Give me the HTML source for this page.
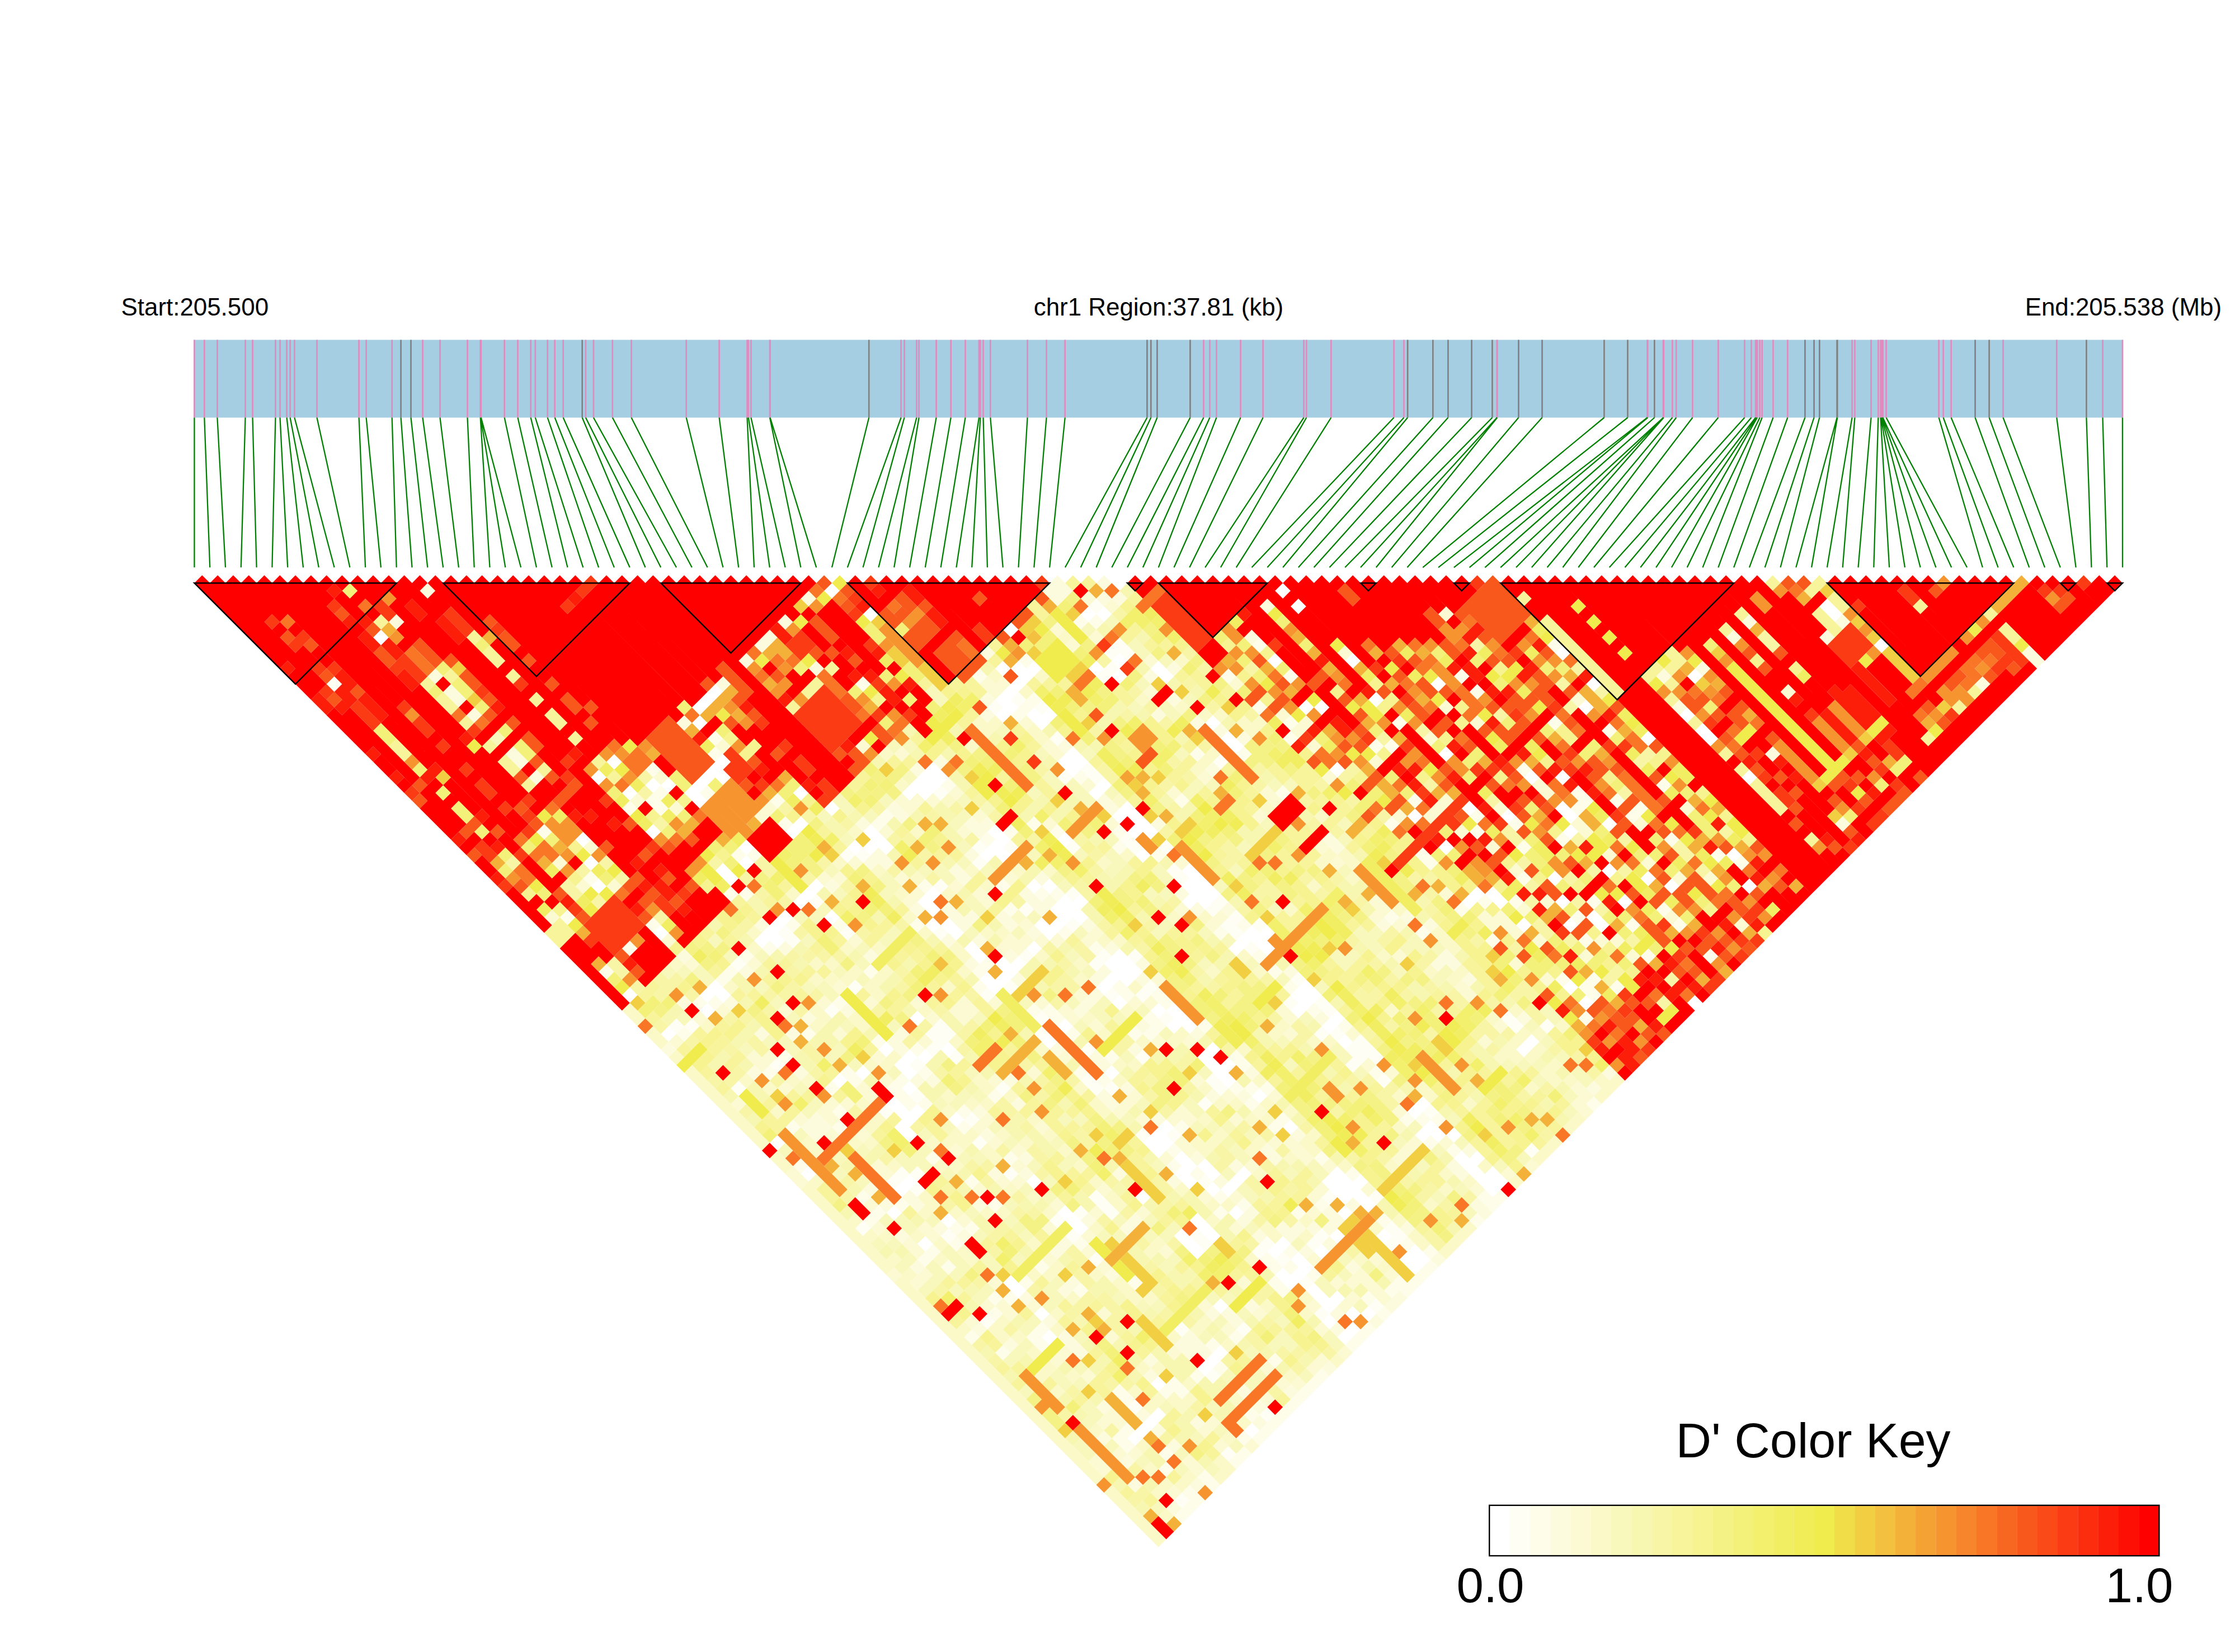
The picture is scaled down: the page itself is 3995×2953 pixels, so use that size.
<!DOCTYPE html><html><head><meta charset="utf-8"><title>LD heatmap</title><style>html,body{margin:0;padding:0;background:#fff}svg{display:block}text{font-family:"Liberation Sans",sans-serif;fill:#000}</style></head><body>
<svg width="3995" height="2953" viewBox="0 0 3995 2953">
<rect width="3995" height="2953" fill="#fff"/>
<text x="216.5" y="564" font-size="43.9">Start:205.500</text>
<text x="2071" y="564" font-size="43.9" text-anchor="middle">chr1 Region:37.81 (kb)</text>
<text x="3971" y="564" font-size="43.9" text-anchor="end">End:205.538 (Mb)</text>
<rect x="346.0" y="607.5" width="3449.2" height="139.0" fill="#a6cee3"/>
<path d="M347.4 607.5V746.5M365.3 607.5V746.5M388.4 607.5V746.5M438.5 607.5V746.5M451.5 607.5V746.5M492.4 607.5V746.5M500.5 607.5V746.5M512.6 607.5V746.5M518.6 607.5V746.5M526.4 607.5V746.5M566.5 607.5V746.5M641.6 607.5V746.5M654.6 607.5V746.5M700.7 607.5V746.5M755.5 607.5V746.5M786.5 607.5V746.5M835.5 607.5V746.5M858.7 607.5V746.5M859.3 607.5V746.5M859.9 607.5V746.5M901.7 607.5V746.5M925.5 607.5V746.5M948.7 607.5V746.5M956.8 607.5V746.5M978.7 607.5V746.5M991.7 607.5V746.5M1006.7 607.5V746.5M1046.9 607.5V746.5M1060.9 607.5V746.5M1094.8 607.5V746.5M1128.5 607.5V746.5M1226.7 607.5V746.5M1285.6 607.5V746.5M1335.5 607.5V746.5M1337.9 607.5V746.5M1342.4 607.5V746.5M1376.0 607.5V746.5M1376.6 607.5V746.5M1610.6 607.5V746.5M1616.5 607.5V746.5M1638.4 607.5V746.5M1642.6 607.5V746.5M1673.6 607.5V746.5M1699.7 607.5V746.5M1725.5 607.5V746.5M1749.9 607.5V746.5M1752.3 607.5V746.5M1757.5 607.5V746.5M1770.3 607.5V746.5M1836.5 607.5V746.5M1870.5 607.5V746.5M1903.7 607.5V746.5M2151.4 607.5V746.5M2162.4 607.5V746.5M2174.4 607.5V746.5M2217.5 607.5V746.5M2257.6 607.5V746.5M2330.5 607.5V746.5M2335.2 607.5V746.5M2379.3 607.5V746.5M2491.5 607.5V746.5M2509.4 607.5V746.5M2675.7 607.5V746.5M2676.3 607.5V746.5M2944.5 607.5V746.5M2945.2 607.5V746.5M2973.0 607.5V746.5M2973.4 607.5V746.5M2973.8 607.5V746.5M2989.3 607.5V746.5M2996.2 607.5V746.5M3025.4 607.5V746.5M3071.3 607.5V746.5M3118.4 607.5V746.5M3130.4 607.5V746.5M3138.0 607.5V746.5M3139.6 607.5V746.5M3141.0 607.5V746.5M3145.6 607.5V746.5M3149.7 607.5V746.5M3169.4 607.5V746.5M3195.3 607.5V746.5M3310.5 607.5V746.5M3315.4 607.5V746.5M3344.5 607.5V746.5M3357.3 607.5V746.5M3361.5 607.5V746.5M3362.5 607.5V746.5M3363.5 607.5V746.5M3364.5 607.5V746.5M3365.5 607.5V746.5M3371.5 607.5V746.5M3465.6 607.5V746.5M3473.6 607.5V746.5M3487.6 607.5V746.5M3580.5 607.5V746.5M3676.3 607.5V746.5M3758.5 607.5V746.5M3793.9 607.5V746.5" stroke="#e08abd" stroke-width="2.6" fill="none"/>
<path d="M716.6 607.5V746.5M734.5 607.5V746.5M1040.7 607.5V746.5M1553.2 607.5V746.5M2050.4 607.5V746.5M2057.3 607.5V746.5M2068.4 607.5V746.5M2127.4 607.5V746.5M2516.1 607.5V746.5M2561.3 607.5V746.5M2588.4 607.5V746.5M2630.5 607.5V746.5M2667.4 607.5V746.5M2714.4 607.5V746.5M2756.5 607.5V746.5M2867.4 607.5V746.5M2909.4 607.5V746.5M2957.3 607.5V746.5M3226.4 607.5V746.5M3242.5 607.5V746.5M3252.3 607.5V746.5M3283.6 607.5V746.5M3284.2 607.5V746.5M3530.5 607.5V746.5M3555.6 607.5V746.5M3729.4 607.5V746.5" stroke="#808080" stroke-width="2.6" fill="none"/>
<path d="M347.4 746.5L347.4 1014.3M365.3 746.5L375.2 1014.3M388.4 746.5L403.0 1014.3M438.5 746.5L430.8 1014.3M451.5 746.5L458.6 1014.3M492.4 746.5L486.4 1014.3M500.5 746.5L514.2 1014.3M512.6 746.5L542.0 1014.3M518.6 746.5L569.8 1014.3M526.4 746.5L597.6 1014.3M566.5 746.5L625.4 1014.3M641.6 746.5L653.1 1014.3M654.6 746.5L680.9 1014.3M700.7 746.5L708.7 1014.3M716.6 746.5L736.5 1014.3M734.5 746.5L764.3 1014.3M755.5 746.5L792.1 1014.3M786.5 746.5L819.9 1014.3M835.5 746.5L847.7 1014.3M858.7 746.5L875.5 1014.3M859.3 746.5L903.3 1014.3M859.9 746.5L931.1 1014.3M901.7 746.5L958.9 1014.3M925.5 746.5L986.7 1014.3M948.7 746.5L1014.5 1014.3M956.8 746.5L1042.3 1014.3M978.7 746.5L1070.1 1014.3M991.7 746.5L1097.9 1014.3M1006.7 746.5L1125.7 1014.3M1040.7 746.5L1153.5 1014.3M1046.9 746.5L1181.2 1014.3M1060.9 746.5L1209.0 1014.3M1094.8 746.5L1236.8 1014.3M1128.5 746.5L1264.6 1014.3M1226.7 746.5L1292.4 1014.3M1285.6 746.5L1320.2 1014.3M1335.5 746.5L1348.0 1014.3M1337.9 746.5L1375.8 1014.3M1342.4 746.5L1403.6 1014.3M1376.0 746.5L1431.4 1014.3M1376.6 746.5L1459.2 1014.3M1553.2 746.5L1487.0 1014.3M1610.6 746.5L1514.8 1014.3M1616.5 746.5L1542.6 1014.3M1638.4 746.5L1570.4 1014.3M1642.6 746.5L1598.2 1014.3M1673.6 746.5L1626.0 1014.3M1699.7 746.5L1653.8 1014.3M1725.5 746.5L1681.6 1014.3M1749.9 746.5L1709.4 1014.3M1752.3 746.5L1737.2 1014.3M1757.5 746.5L1764.9 1014.3M1770.3 746.5L1792.7 1014.3M1836.5 746.5L1820.5 1014.3M1870.5 746.5L1848.3 1014.3M1903.7 746.5L1876.1 1014.3M2050.4 746.5L1903.9 1014.3M2057.3 746.5L1931.7 1014.3M2068.4 746.5L1959.5 1014.3M2127.4 746.5L1987.3 1014.3M2151.4 746.5L2015.1 1014.3M2162.4 746.5L2042.9 1014.3M2174.4 746.5L2070.7 1014.3M2217.5 746.5L2098.5 1014.3M2257.6 746.5L2126.3 1014.3M2330.5 746.5L2154.1 1014.3M2335.2 746.5L2181.9 1014.3M2379.3 746.5L2209.7 1014.3M2491.5 746.5L2237.5 1014.3M2509.4 746.5L2265.3 1014.3M2516.1 746.5L2293.1 1014.3M2561.3 746.5L2320.8 1014.3M2588.4 746.5L2348.6 1014.3M2630.5 746.5L2376.4 1014.3M2667.4 746.5L2404.2 1014.3M2675.7 746.5L2432.0 1014.3M2676.3 746.5L2459.8 1014.3M2714.4 746.5L2487.6 1014.3M2756.5 746.5L2515.4 1014.3M2867.4 746.5L2543.2 1014.3M2909.4 746.5L2571.0 1014.3M2944.5 746.5L2598.8 1014.3M2945.2 746.5L2626.6 1014.3M2957.3 746.5L2654.4 1014.3M2973.0 746.5L2682.2 1014.3M2973.4 746.5L2710.0 1014.3M2973.8 746.5L2737.8 1014.3M2989.3 746.5L2765.6 1014.3M2996.2 746.5L2793.4 1014.3M3025.4 746.5L2821.2 1014.3M3071.3 746.5L2849.0 1014.3M3118.4 746.5L2876.7 1014.3M3130.4 746.5L2904.5 1014.3M3138.0 746.5L2932.3 1014.3M3139.6 746.5L2960.1 1014.3M3141.0 746.5L2987.9 1014.3M3145.6 746.5L3015.7 1014.3M3149.7 746.5L3043.5 1014.3M3169.4 746.5L3071.3 1014.3M3195.3 746.5L3099.1 1014.3M3226.4 746.5L3126.9 1014.3M3242.5 746.5L3154.7 1014.3M3252.3 746.5L3182.5 1014.3M3283.6 746.5L3210.3 1014.3M3284.2 746.5L3238.1 1014.3M3310.5 746.5L3265.9 1014.3M3315.4 746.5L3293.7 1014.3M3344.5 746.5L3321.5 1014.3M3357.3 746.5L3349.3 1014.3M3361.5 746.5L3377.1 1014.3M3362.5 746.5L3404.9 1014.3M3363.5 746.5L3432.6 1014.3M3364.5 746.5L3460.4 1014.3M3365.5 746.5L3488.2 1014.3M3371.5 746.5L3516.0 1014.3M3465.6 746.5L3543.8 1014.3M3473.6 746.5L3571.6 1014.3M3487.6 746.5L3599.4 1014.3M3530.5 746.5L3627.2 1014.3M3555.6 746.5L3655.0 1014.3M3580.5 746.5L3682.8 1014.3M3676.3 746.5L3710.6 1014.3M3729.4 746.5L3738.4 1014.3M3758.5 746.5L3766.2 1014.3M3793.9 746.5L3794.0 1014.3" stroke="#008000" stroke-width="2.3" fill="none"/>
<g transform="matrix(13.8975 -13.8975 13.8975 13.8975 333.502 1028.300)">
<path fill="#fefef4" d="M1 85v1h1v-1zM2 16v1h1v-1zM2 60v1h1v-1zM2 68v1h1v-1zM3 61v1h1v-1zM3 99v1h1v-1zM4 123v1h1v-1zM6 69v1h1v-1zM6 84v1h1v-1zM6 91v1h1v-1zM7 84v1h1v-1zM7 86v1h1v-1zM7 114v1h1v-1zM8 85v1h1v-1zM10 60v1h1v-1zM10 79v1h1v-1zM10 123v1h1v-1zM13 69v1h1v-1zM13 80v1h1v-1zM14 87v1h1v-1zM14 91v1h1v-1zM14 97v1h1v-1zM14 99v1h1v-1zM14 102v1h1v-1zM14 117v1h1v-1zM15 61v2h1v-2zM15 78v1h1v-1zM15 85v1h1v-1zM15 112v1h1v-1zM15 123v1h1v-1zM16 69v1h1v-1zM16 98v1h1v-1zM17 78v1h1v-1zM18 77v2h1v-2zM18 80v1h1v-1zM18 98v3h1v-3zM19 61v1h1v-1zM19 65v1h1v-1zM19 77v2h1v-2zM19 85v1h1v-1zM19 116v1h1v-1zM22 107v2h1v-2zM24 60v1h1v-1zM24 78v1h1v-1zM25 61v1h1v-1zM25 71v1h1v-1zM25 84v1h1v-1zM25 90v2h1v-2zM25 97v1h1v-1zM25 112v1h1v-1zM25 120v1h1v-1zM26 79v1h1v-1zM26 83v1h1v-1zM26 92v1h1v-1zM26 104v1h1v-1zM26 112v1h1v-1zM26 114v1h1v-1zM26 117v1h1v-1zM27 88v1h1v-1zM27 99v1h1v-1zM28 68v1h1v-1zM29 78v1h1v-1zM29 115v1h1v-1zM29 123v1h1v-1zM30 92v1h1v-1zM30 115v1h1v-1zM31 99v1h1v-1zM32 69v1h1v-1zM32 75v1h1v-1zM32 86v1h1v-1zM33 68v1h1v-1zM33 83v1h1v-1zM33 98v2h1v-2zM33 113v1h1v-1zM34 62v1h1v-1zM34 79v1h1v-1zM34 83v1h1v-1zM34 88v1h1v-1zM34 91v1h1v-1zM34 120v1h1v-1zM35 70v1h1v-1zM35 88v1h1v-1zM35 119v2h1v-2zM36 77v1h1v-1zM36 85v1h1v-1zM36 116v1h1v-1zM39 74v1h1v-1zM43 60v1h1v-1zM43 69v1h1v-1zM43 77v2h1v-2zM43 98v1h1v-1zM43 102v1h1v-1zM43 106v1h1v-1zM44 82v2h1v-2zM44 87v1h1v-1zM44 89v2h1v-2zM44 92v1h1v-1zM44 103v1h1v-1zM44 105v2h1v-2zM44 109v1h1v-1zM45 61v1h1v-1zM45 66v1h1v-1zM45 70v2h1v-2zM45 80v1h1v-1zM45 87v1h1v-1zM45 89v1h1v-1zM45 97v1h1v-1zM45 100v2h1v-2zM45 105v3h1v-3zM45 114v1h1v-1zM46 63v1h1v-1zM46 91v1h1v-1zM49 123v1h1v-1zM52 65v1h1v-1zM53 65v1h1v-1zM54 64v1h1v-1zM54 78v1h1v-1zM55 64v2h1v-2zM56 60v1h1v-1zM56 113v2h1v-2zM58 116v1h1v-1z"/>
<path fill="#fdfde9" d="M1 52v1h1v-1zM1 77v1h1v-1zM1 99v1h1v-1zM2 46v1h1v-1zM2 61v1h1v-1zM2 85v1h1v-1zM2 102v1h1v-1zM3 74v1h1v-1zM3 83v1h1v-1zM3 85v1h1v-1zM3 91v1h1v-1zM3 124v1h1v-1zM4 52v1h1v-1zM4 91v1h1v-1zM4 93v1h1v-1zM4 99v1h1v-1zM4 115v2h1v-2zM4 124v1h1v-1zM5 60v1h1v-1zM5 69v1h1v-1zM5 86v1h1v-1zM5 98v1h1v-1zM5 103v2h1v-2zM5 115v1h1v-1zM5 120v1h1v-1zM5 123v2h1v-2zM6 39v1h1v-1zM6 45v1h1v-1zM6 61v1h1v-1zM6 77v1h1v-1zM6 92v1h1v-1zM6 99v1h1v-1zM6 103v1h1v-1zM6 119v1h1v-1zM7 52v1h1v-1zM7 69v1h1v-1zM7 76v1h1v-1zM7 91v1h1v-1zM7 112v2h1v-2zM7 123v2h1v-2zM8 60v1h1v-1zM8 74v1h1v-1zM8 92v1h1v-1zM8 99v1h1v-1zM9 60v1h1v-1zM10 69v1h1v-1zM10 74v2h1v-2zM10 85v1h1v-1zM10 99v1h1v-1zM10 115v1h1v-1zM10 124v1h1v-1zM11 60v1h1v-1zM11 89v1h1v-1zM11 92v1h1v-1zM11 103v1h1v-1zM11 115v2h1v-2zM11 124v1h1v-1zM12 78v3h1v-3zM12 123v1h1v-1zM13 43v1h1v-1zM13 61v1h1v-1zM13 78v1h1v-1zM13 81v1h1v-1zM13 116v1h1v-1zM13 124v1h1v-1zM14 55v1h1v-1zM14 69v1h1v-1zM14 74v1h1v-1zM14 85v1h1v-1zM14 100v1h1v-1zM14 122v1h1v-1zM14 124v1h1v-1zM15 44v2h1v-2zM15 56v1h1v-1zM15 79v1h1v-1zM15 84v1h1v-1zM15 90v1h1v-1zM15 106v1h1v-1zM15 117v1h1v-1zM15 124v1h1v-1zM16 44v1h1v-1zM16 61v1h1v-1zM16 77v1h1v-1zM16 115v1h1v-1zM16 124v1h1v-1zM17 42v1h1v-1zM17 53v1h1v-1zM17 124v1h1v-1zM18 54v1h1v-1zM18 69v1h1v-1zM18 85v1h1v-1zM18 116v1h1v-1zM18 124v1h1v-1zM19 47v1h1v-1zM19 64v1h1v-1zM19 120v1h1v-1zM19 124v1h1v-1zM20 124v1h1v-1zM21 124v1h1v-1zM22 45v1h1v-1zM22 54v1h1v-1zM23 44v1h1v-1zM23 52v1h1v-1zM24 69v1h1v-1zM24 77v1h1v-1zM24 115v2h1v-2zM25 76v1h1v-1zM25 89v1h1v-1zM25 101v1h1v-1zM25 107v1h1v-1zM25 113v2h1v-2zM25 124v1h1v-1zM26 76v1h1v-1zM26 82v1h1v-1zM26 91v1h1v-1zM26 100v1h1v-1zM26 103v1h1v-1zM26 106v1h1v-1zM26 115v1h1v-1zM26 124v1h1v-1zM27 67v1h1v-1zM27 83v2h1v-2zM27 86v1h1v-1zM27 108v1h1v-1zM27 114v1h1v-1zM27 117v1h1v-1zM27 124v1h1v-1zM28 60v1h1v-1zM28 90v1h1v-1zM28 99v1h1v-1zM29 60v1h1v-1zM29 122v1h1v-1zM29 124v1h1v-1zM30 112v1h1v-1zM31 74v1h1v-1zM31 90v1h1v-1zM31 123v1h1v-1zM32 72v1h1v-1zM32 91v1h1v-1zM32 113v1h1v-1zM32 123v2h1v-2zM33 79v1h1v-1zM33 86v2h1v-2zM33 90v2h1v-2zM33 124v1h1v-1zM34 68v1h1v-1zM34 75v1h1v-1zM34 82v1h1v-1zM34 100v1h1v-1zM34 102v1h1v-1zM34 105v1h1v-1zM34 124v1h1v-1zM35 62v1h1v-1zM35 76v1h1v-1zM35 89v2h1v-2zM35 101v1h1v-1zM35 105v1h1v-1zM35 110v1h1v-1zM35 118v1h1v-1zM35 121v1h1v-1zM35 124v1h1v-1zM36 50v1h1v-1zM36 69v1h1v-1zM36 94v1h1v-1zM36 98v2h1v-2zM36 102v1h1v-1zM36 113v1h1v-1zM36 123v1h1v-1zM38 70v1h1v-1zM39 72v1h1v-1zM41 124v1h1v-1zM42 77v1h1v-1zM43 76v1h1v-1zM43 89v1h1v-1zM43 113v1h1v-1zM43 116v1h1v-1zM43 123v2h1v-2zM44 57v1h1v-1zM44 62v1h1v-1zM44 70v1h1v-1zM44 80v1h1v-1zM44 93v1h1v-1zM44 95v1h1v-1zM44 97v1h1v-1zM44 100v1h1v-1zM44 108v1h1v-1zM44 114v1h1v-1zM44 118v1h1v-1zM44 124v1h1v-1zM45 62v1h1v-1zM45 90v1h1v-1zM45 103v1h1v-1zM45 115v1h1v-1zM46 62v1h1v-1zM48 59v1h1v-1zM49 78v1h1v-1zM53 76v1h1v-1zM54 60v1h1v-1zM55 61v1h1v-1zM55 99v1h1v-1zM56 79v1h1v-1zM56 84v1h1v-1zM56 102v1h1v-1zM56 124v1h1v-1zM60 73v1h1v-1zM60 77v1h1v-1zM60 81v1h1v-1zM60 103v1h1v-1zM60 107v1h1v-1zM61 80v1h1v-1zM61 93v1h1v-1zM61 97v2h1v-2zM61 118v1h1v-1zM62 104v1h1v-1zM62 114v1h1v-1zM63 116v2h1v-2zM64 73v1h1v-1zM64 77v1h1v-1zM64 93v1h1v-1zM64 106v1h1v-1zM64 116v1h1v-1zM65 87v1h1v-1zM65 118v1h1v-1zM66 88v1h1v-1zM66 99v1h1v-1zM66 105v1h1v-1zM66 113v1h1v-1zM67 98v1h1v-1zM67 111v1h1v-1zM68 87v1h1v-1zM68 103v1h1v-1zM69 101v1h1v-1zM69 111v1h1v-1zM69 118v1h1v-1zM70 115v1h1v-1zM71 105v1h1v-1zM73 98v1h1v-1zM73 116v1h1v-1zM73 118v1h1v-1zM73 122v1h1v-1zM74 104v1h1v-1zM75 88v1h1v-1zM75 90v1h1v-1zM75 103v2h1v-2zM77 106v1h1v-1zM77 108v1h1v-1zM78 97v1h1v-1zM78 108v1h1v-1zM78 112v1h1v-1zM80 116v1h1v-1zM81 101v1h1v-1zM81 108v1h1v-1zM81 118v1h1v-1zM83 92v1h1v-1z"/>
<path fill="#fcfbde" d="M0 61v1h1v-1zM2 91v1h1v-1zM2 99v1h1v-1zM2 119v1h1v-1zM3 88v1h1v-1zM3 102v1h1v-1zM3 114v1h1v-1zM3 117v1h1v-1zM3 123v1h1v-1zM4 59v1h1v-1zM4 68v1h1v-1zM4 75v2h1v-2zM4 83v1h1v-1zM4 85v1h1v-1zM5 75v2h1v-2zM5 112v1h1v-1zM6 86v2h1v-2zM6 90v1h1v-1zM6 123v1h1v-1zM7 56v1h1v-1zM7 62v1h1v-1zM7 66v1h1v-1zM7 71v1h1v-1zM7 92v1h1v-1zM7 100v1h1v-1zM7 103v1h1v-1zM7 105v3h1v-3zM7 115v1h1v-1zM7 117v1h1v-1zM7 119v1h1v-1zM9 22v1h1v-1zM9 24v2h1v-2zM9 27v1h1v-1zM9 32v2h1v-2zM9 35v1h1v-1zM9 68v1h1v-1zM10 16v1h1v-1zM10 61v1h1v-1zM10 91v1h1v-1zM10 102v1h1v-1zM10 113v1h1v-1zM10 119v1h1v-1zM11 68v1h1v-1zM11 102v1h1v-1zM11 112v1h1v-1zM12 99v1h1v-1zM13 90v1h1v-1zM13 99v1h1v-1zM14 16v1h1v-1zM14 59v1h1v-1zM14 62v1h1v-1zM14 70v1h1v-1zM14 79v1h1v-1zM14 104v1h1v-1zM14 113v2h1v-2zM14 123v1h1v-1zM15 75v2h1v-2zM15 80v1h1v-1zM15 87v1h1v-1zM15 92v1h1v-1zM15 113v3h1v-3zM15 120v1h1v-1zM15 122v1h1v-1zM16 75v1h1v-1zM16 85v1h1v-1zM16 91v1h1v-1zM16 99v1h1v-1zM18 102v1h1v-1zM18 113v1h1v-1zM18 123v1h1v-1zM19 68v1h1v-1zM19 87v1h1v-1zM19 102v1h1v-1zM19 114v2h1v-2zM20 85v1h1v-1zM21 61v1h1v-1zM21 98v1h1v-1zM21 115v1h1v-1zM22 41v1h1v-1zM22 124v1h1v-1zM24 102v1h1v-1zM25 62v1h1v-1zM25 68v1h1v-1zM25 72v1h1v-1zM25 75v1h1v-1zM25 86v1h1v-1zM25 92v2h1v-2zM25 122v1h1v-1zM26 62v2h1v-2zM26 109v1h1v-1zM26 111v1h1v-1zM26 121v1h1v-1zM27 41v1h1v-1zM27 59v1h1v-1zM27 70v3h1v-3zM27 74v1h1v-1zM27 79v1h1v-1zM27 89v2h1v-2zM27 93v1h1v-1zM27 97v1h1v-1zM27 102v1h1v-1zM27 105v1h1v-1zM27 109v1h1v-1zM28 72v1h1v-1zM28 77v1h1v-1zM28 112v2h1v-2zM28 115v1h1v-1zM28 124v1h1v-1zM29 85v1h1v-1zM29 105v1h1v-1zM29 113v1h1v-1zM30 41v1h1v-1zM30 60v2h1v-2zM30 68v2h1v-2zM30 74v2h1v-2zM30 85v1h1v-1zM30 91v1h1v-1zM30 114v1h1v-1zM30 116v1h1v-1zM30 119v1h1v-1zM30 124v1h1v-1zM31 77v1h1v-1zM31 85v1h1v-1zM31 115v1h1v-1zM31 124v1h1v-1zM32 41v1h1v-1zM32 68v1h1v-1zM32 84v1h1v-1zM32 90v1h1v-1zM32 99v1h1v-1zM32 106v2h1v-2zM32 114v2h1v-2zM33 41v1h1v-1zM33 74v3h1v-3zM33 84v1h1v-1zM34 46v1h1v-1zM34 59v1h1v-1zM34 66v2h1v-2zM34 76v1h1v-1zM34 101v1h1v-1zM34 115v1h1v-1zM35 41v1h1v-1zM35 67v1h1v-1zM35 74v1h1v-1zM35 80v1h1v-1zM35 83v1h1v-1zM35 87v1h1v-1zM35 94v1h1v-1zM35 107v1h1v-1zM36 60v1h1v-1zM36 86v1h1v-1zM36 100v1h1v-1zM36 120v1h1v-1zM36 124v1h1v-1zM38 41v1h1v-1zM42 60v1h1v-1zM42 123v2h1v-2zM43 59v1h1v-1zM43 84v1h1v-1zM43 86v1h1v-1zM43 119v2h1v-2zM44 73v2h1v-2zM44 101v1h1v-1zM45 67v1h1v-1zM45 88v1h1v-1zM45 96v1h1v-1zM45 119v1h1v-1zM46 56v1h1v-1zM46 78v1h1v-1zM53 71v1h1v-1zM53 78v1h1v-1zM54 56v2h1v-2zM54 99v1h1v-1zM55 56v2h1v-2zM55 68v1h1v-1zM55 71v1h1v-1zM55 74v1h1v-1zM55 105v1h1v-1zM56 76v1h1v-1zM56 90v2h1v-2zM56 100v1h1v-1zM56 105v2h1v-2zM56 108v1h1v-1zM57 60v1h1v-1zM57 69v1h1v-1zM57 78v1h1v-1zM57 102v1h1v-1zM57 114v1h1v-1zM57 123v1h1v-1zM58 59v1h1v-1zM58 61v1h1v-1zM59 123v1h1v-1zM64 72v1h1v-1zM67 71v1h1v-1zM87 104v1h1v-1zM88 101v1h1v-1zM90 113v1h1v-1zM90 122v1h1v-1zM91 103v1h1v-1zM95 103v1h1v-1zM97 103v1h1v-1zM101 109v1h1v-1zM103 109v1h1v-1zM108 122v1h1v-1zM113 123v2h1v-2z"/>
<path fill="#fbfad2" d="M0 77v2h1v-2zM0 90v1h1v-1zM1 45v1h1v-1zM1 61v1h1v-1zM1 69v1h1v-1zM1 92v1h1v-1zM1 115v2h1v-2zM2 86v1h1v-1zM2 92v1h1v-1zM2 98v1h1v-1zM3 84v1h1v-1zM3 89v2h1v-2zM3 116v1h1v-1zM4 61v1h1v-1zM4 74v1h1v-1zM4 98v1h1v-1zM4 113v1h1v-1zM4 117v1h1v-1zM4 122v1h1v-1zM5 42v1h1v-1zM5 45v1h1v-1zM5 67v2h1v-2zM5 71v1h1v-1zM5 77v1h1v-1zM5 89v2h1v-2zM5 99v2h1v-2zM5 106v1h1v-1zM5 113v2h1v-2zM6 62v1h1v-1zM6 68v1h1v-1zM6 75v2h1v-2zM6 82v2h1v-2zM6 97v1h1v-1zM6 106v1h1v-1zM6 109v1h1v-1zM7 47v1h1v-1zM7 54v1h1v-1zM7 57v1h1v-1zM7 75v1h1v-1zM7 79v1h1v-1zM7 101v1h1v-1zM7 121v2h1v-2zM8 43v1h1v-1zM8 76v1h1v-1zM8 91v1h1v-1zM10 66v1h1v-1zM10 76v2h1v-2zM10 108v1h1v-1zM10 120v1h1v-1zM10 122v1h1v-1zM11 61v1h1v-1zM11 90v1h1v-1zM11 99v1h1v-1zM11 106v1h1v-1zM11 120v1h1v-1zM12 71v1h1v-1zM12 77v1h1v-1zM12 86v1h1v-1zM12 124v1h1v-1zM13 68v1h1v-1zM13 75v1h1v-1zM13 91v1h1v-1zM13 97v1h1v-1zM13 113v1h1v-1zM14 43v1h1v-1zM14 92v1h1v-1zM14 101v1h1v-1zM14 103v1h1v-1zM15 68v1h1v-1zM15 86v1h1v-1zM15 88v1h1v-1zM15 91v1h1v-1zM15 96v1h1v-1zM15 100v1h1v-1zM16 46v1h1v-1zM16 71v1h1v-1zM16 86v1h1v-1zM16 90v1h1v-1zM16 122v1h1v-1zM17 43v1h1v-1zM17 77v1h1v-1zM17 99v1h1v-1zM18 112v1h1v-1zM18 115v1h1v-1zM18 120v1h1v-1zM18 122v1h1v-1zM19 66v1h1v-1zM19 74v1h1v-1zM19 76v1h1v-1zM19 84v1h1v-1zM19 90v1h1v-1zM19 98v1h1v-1zM19 106v1h1v-1zM19 123v1h1v-1zM20 102v1h1v-1zM21 52v1h1v-1zM21 60v1h1v-1zM21 77v2h1v-2zM21 116v1h1v-1zM21 123v1h1v-1zM22 52v1h1v-1zM22 61v1h1v-1zM22 77v2h1v-2zM22 86v1h1v-1zM22 113v1h1v-1zM22 123v1h1v-1zM23 45v1h1v-1zM24 61v1h1v-1zM24 79v1h1v-1zM24 121v1h1v-1zM24 124v1h1v-1zM25 67v1h1v-1zM25 87v1h1v-1zM25 94v1h1v-1zM25 100v1h1v-1zM25 105v1h1v-1zM25 109v1h1v-1zM25 119v1h1v-1zM26 65v1h1v-1zM26 67v1h1v-1zM26 94v1h1v-1zM26 96v1h1v-1zM27 82v1h1v-1zM27 94v1h1v-1zM27 100v2h1v-2zM27 107v1h1v-1zM27 121v1h1v-1zM28 61v1h1v-1zM28 76v1h1v-1zM28 84v2h1v-2zM28 98v1h1v-1zM28 116v1h1v-1zM28 119v1h1v-1zM28 121v1h1v-1zM29 69v1h1v-1zM29 76v2h1v-2zM29 87v1h1v-1zM29 98v2h1v-2zM29 120v1h1v-1zM30 71v2h1v-2zM30 77v1h1v-1zM30 84v1h1v-1zM30 106v1h1v-1zM30 120v4h1v-4zM31 60v2h1v-2zM31 76v1h1v-1zM31 78v1h1v-1zM31 113v1h1v-1zM32 54v1h1v-1zM32 61v1h1v-1zM32 79v1h1v-1zM32 92v1h1v-1zM32 97v1h1v-1zM32 102v1h1v-1zM32 112v1h1v-1zM32 120v1h1v-1zM32 122v1h1v-1zM33 62v1h1v-1zM33 66v1h1v-1zM33 72v1h1v-1zM33 88v1h1v-1zM33 100v1h1v-1zM33 106v1h1v-1zM33 112v1h1v-1zM34 57v1h1v-1zM34 81v1h1v-1zM34 89v1h1v-1zM34 94v1h1v-1zM34 103v1h1v-1zM34 107v3h1v-3zM35 63v1h1v-1zM35 66v1h1v-1zM35 81v1h1v-1zM35 111v1h1v-1zM36 88v1h1v-1zM36 103v1h1v-1zM36 115v1h1v-1zM39 71v1h1v-1zM40 115v1h1v-1zM41 100v1h1v-1zM41 115v1h1v-1zM42 85v1h1v-1zM42 98v2h1v-2zM42 115v1h1v-1zM43 75v1h1v-1zM43 88v1h1v-1zM43 112v1h1v-1zM43 122v1h1v-1zM44 58v2h1v-2zM44 63v1h1v-1zM44 66v2h1v-2zM44 71v1h1v-1zM44 88v1h1v-1zM44 107v1h1v-1zM44 117v1h1v-1zM45 59v1h1v-1zM45 82v1h1v-1zM45 104v1h1v-1zM45 109v1h1v-1zM46 123v1h1v-1zM48 124v1h1v-1zM49 77v1h1v-1zM52 59v1h1v-1zM52 61v1h1v-1zM52 78v1h1v-1zM53 84v1h1v-1zM53 102v1h1v-1zM53 113v1h1v-1zM54 62v1h1v-1zM54 69v1h1v-1zM54 98v1h1v-1zM55 83v2h1v-2zM55 90v1h1v-1zM55 92v1h1v-1zM55 97v2h1v-2zM55 100v1h1v-1zM55 108v2h1v-2zM55 113v1h1v-1zM55 123v2h1v-2zM56 59v1h1v-1zM56 67v1h1v-1zM56 122v2h1v-2zM57 61v1h1v-1zM60 74v1h1v-1zM60 86v1h1v-1zM60 101v1h1v-1zM60 110v1h1v-1zM61 79v1h1v-1zM61 81v1h1v-1zM61 83v1h1v-1zM61 105v2h1v-2zM61 113v1h1v-1zM62 81v1h1v-1zM62 93v1h1v-1zM62 106v3h1v-3zM63 110v1h1v-1zM64 88v1h1v-1zM64 95v1h1v-1zM64 107v1h1v-1zM65 95v1h1v-1zM65 98v1h1v-1zM65 114v1h1v-1zM66 95v1h1v-1zM66 101v1h1v-1zM66 104v1h1v-1zM66 108v1h1v-1zM67 114v1h1v-1zM68 115v1h1v-1zM68 117v1h1v-1zM69 79v1h1v-1zM69 90v1h1v-1zM69 99v1h1v-1zM72 89v1h1v-1zM73 92v1h1v-1zM73 100v2h1v-2zM73 105v2h1v-2zM73 109v1h1v-1zM73 117v1h1v-1zM75 112v1h1v-1zM76 115v1h1v-1zM77 109v1h1v-1zM77 122v1h1v-1zM78 83v1h1v-1zM78 117v1h1v-1zM81 97v1h1v-1zM81 111v1h1v-1zM95 110v1h1v-1z"/>
<path fill="#faf9c7" d="M0 56v2h1v-2zM0 59v2h1v-2zM0 62v1h1v-1zM0 64v10h1v-10zM0 75v2h1v-2zM0 79v11h1v-11zM0 91v26h1v-26zM0 118v7h1v-7zM1 79v1h1v-1zM1 84v1h1v-1zM1 86v1h1v-1zM1 89v1h1v-1zM1 91v1h1v-1zM1 98v1h1v-1zM2 87v1h1v-1zM2 123v1h1v-1zM3 68v1h1v-1zM3 72v1h1v-1zM3 76v2h1v-2zM3 100v2h1v-2zM3 106v1h1v-1zM3 108v1h1v-1zM3 113v1h1v-1zM3 121v1h1v-1zM4 62v1h1v-1zM4 70v1h1v-1zM4 89v1h1v-1zM4 92v1h1v-1zM4 100v1h1v-1zM4 102v1h1v-1zM4 104v1h1v-1zM4 106v1h1v-1zM4 119v1h1v-1zM4 121v1h1v-1zM5 91v1h1v-1zM5 108v1h1v-1zM5 117v1h1v-1zM5 122v1h1v-1zM6 56v1h1v-1zM6 71v1h1v-1zM6 79v1h1v-1zM6 88v1h1v-1zM6 93v2h1v-2zM6 122v1h1v-1zM7 72v1h1v-1zM7 80v1h1v-1zM7 83v1h1v-1zM7 87v2h1v-2zM7 104v1h1v-1zM8 61v1h1v-1zM8 79v1h1v-1zM8 90v1h1v-1zM8 103v1h1v-1zM8 113v1h1v-1zM8 115v1h1v-1zM8 124v1h1v-1zM9 77v1h1v-1zM9 79v1h1v-1zM9 99v1h1v-1zM9 115v1h1v-1zM9 123v2h1v-2zM10 86v1h1v-1zM10 92v1h1v-1zM10 100v1h1v-1zM10 103v1h1v-1zM10 112v1h1v-1zM10 116v2h1v-2zM11 69v1h1v-1zM11 84v1h1v-1zM11 87v1h1v-1zM11 93v1h1v-1zM11 97v1h1v-1zM11 100v1h1v-1zM11 113v1h1v-1zM11 117v1h1v-1zM11 122v1h1v-1zM12 60v1h1v-1zM12 68v2h1v-2zM12 75v1h1v-1zM12 85v1h1v-1zM12 116v1h1v-1zM13 59v1h1v-1zM13 76v1h1v-1zM13 85v2h1v-2zM13 92v1h1v-1zM13 103v1h1v-1zM13 122v1h1v-1zM14 66v1h1v-1zM14 71v2h1v-2zM14 76v1h1v-1zM14 83v1h1v-1zM14 86v1h1v-1zM14 88v2h1v-2zM14 94v1h1v-1zM14 96v1h1v-1zM14 105v3h1v-3zM14 112v1h1v-1zM14 120v1h1v-1zM15 65v1h1v-1zM15 67v1h1v-1zM15 82v1h1v-1zM15 108v1h1v-1zM16 66v1h1v-1zM16 68v1h1v-1zM16 84v1h1v-1zM16 88v1h1v-1zM16 100v1h1v-1zM16 113v1h1v-1zM17 68v1h1v-1zM17 70v2h1v-2zM17 85v1h1v-1zM17 90v1h1v-1zM17 113v1h1v-1zM17 116v1h1v-1zM18 59v1h1v-1zM18 66v1h1v-1zM18 70v1h1v-1zM18 83v2h1v-2zM18 105v1h1v-1zM19 70v1h1v-1zM19 75v1h1v-1zM19 79v1h1v-1zM19 86v1h1v-1zM19 89v1h1v-1zM19 91v1h1v-1zM19 93v1h1v-1zM19 95v1h1v-1zM19 97v1h1v-1zM19 99v2h1v-2zM19 105v1h1v-1zM19 122v1h1v-1zM20 68v1h1v-1zM22 75v1h1v-1zM22 116v1h1v-1zM23 60v1h1v-1zM23 124v1h1v-1zM24 68v1h1v-1zM24 70v1h1v-1zM24 75v1h1v-1zM24 85v1h1v-1zM24 90v1h1v-1zM24 92v2h1v-2zM24 103v1h1v-1zM24 107v1h1v-1zM24 112v1h1v-1zM24 119v1h1v-1zM25 63v1h1v-1zM25 66v1h1v-1zM25 73v2h1v-2zM25 106v1h1v-1zM25 118v1h1v-1zM26 59v1h1v-1zM26 107v1h1v-1zM27 66v1h1v-1zM27 92v1h1v-1zM27 111v2h1v-2zM28 69v1h1v-1zM28 74v1h1v-1zM28 91v1h1v-1zM28 101v2h1v-2zM29 75v1h1v-1zM29 86v1h1v-1zM29 88v1h1v-1zM29 92v1h1v-1zM29 102v1h1v-1zM29 114v1h1v-1zM30 63v1h1v-1zM30 79v1h1v-1zM30 100v1h1v-1zM30 102v1h1v-1zM30 107v1h1v-1zM30 113v1h1v-1zM31 69v1h1v-1zM31 71v1h1v-1zM31 75v1h1v-1zM31 83v1h1v-1zM31 91v1h1v-1zM31 105v1h1v-1zM31 119v1h1v-1zM32 59v1h1v-1zM32 82v1h1v-1zM32 88v1h1v-1zM32 98v1h1v-1zM32 100v1h1v-1zM32 105v1h1v-1zM32 121v1h1v-1zM33 56v1h1v-1zM33 93v1h1v-1zM33 101v1h1v-1zM33 103v1h1v-1zM33 108v1h1v-1zM34 63v1h1v-1zM34 72v1h1v-1zM34 87v1h1v-1zM34 93v1h1v-1zM34 104v1h1v-1zM34 118v1h1v-1zM35 82v1h1v-1zM35 103v1h1v-1zM35 108v2h1v-2zM36 74v1h1v-1zM36 83v1h1v-1zM36 101v1h1v-1zM36 105v1h1v-1zM36 108v1h1v-1zM36 112v1h1v-1zM36 119v1h1v-1zM36 121v2h1v-2zM37 98v1h1v-1zM37 124v1h1v-1zM38 124v1h1v-1zM39 61v1h1v-1zM39 115v1h1v-1zM39 120v1h1v-1zM39 124v1h1v-1zM40 77v1h1v-1zM40 91v1h1v-1zM40 99v1h1v-1zM40 124v1h1v-1zM41 60v2h1v-2zM41 85v1h1v-1zM41 99v1h1v-1zM41 120v1h1v-1zM42 61v1h1v-1zM42 78v1h1v-1zM42 102v1h1v-1zM42 113v1h1v-1zM42 119v1h1v-1zM43 87v1h1v-1zM43 92v1h1v-1zM43 94v1h1v-1zM43 103v1h1v-1zM43 121v1h1v-1zM44 64v2h1v-2zM44 111v1h1v-1zM45 58v1h1v-1zM45 74v1h1v-1zM45 121v1h1v-1zM46 61v1h1v-1zM46 112v2h1v-2zM46 124v1h1v-1zM48 61v1h1v-1zM48 116v1h1v-1zM49 92v1h1v-1zM49 105v1h1v-1zM49 124v1h1v-1zM50 124v1h1v-1zM51 124v1h1v-1zM52 60v1h1v-1zM52 77v1h1v-1zM52 92v1h1v-1zM52 101v1h1v-1zM53 69v1h1v-1zM53 77v1h1v-1zM53 115v1h1v-1zM53 119v1h1v-1zM53 124v1h1v-1zM54 77v1h1v-1zM54 84v1h1v-1zM54 91v1h1v-1zM54 105v1h1v-1zM54 115v2h1v-2zM54 124v1h1v-1zM55 72v1h1v-1zM55 91v1h1v-1zM55 94v1h1v-1zM55 107v1h1v-1zM55 112v1h1v-1zM55 115v1h1v-1zM55 117v1h1v-1zM55 119v2h1v-2zM56 74v1h1v-1zM56 92v2h1v-2zM56 99v1h1v-1zM56 107v1h1v-1zM56 115v1h1v-1zM56 117v1h1v-1zM56 119v1h1v-1zM56 121v1h1v-1zM57 75v1h1v-1zM57 88v1h1v-1zM57 103v3h1v-3zM57 113v1h1v-1zM57 116v1h1v-1zM57 124v1h1v-1zM58 69v1h1v-1zM58 77v2h1v-2zM58 123v2h1v-2zM59 78v1h1v-1zM59 117v1h1v-1zM59 124v1h1v-1z"/>
<path fill="#f9f8bc" d="M1 75v1h1v-1zM1 87v1h1v-1zM1 90v1h1v-1zM1 93v1h1v-1zM1 106v1h1v-1zM1 113v2h1v-2zM2 88v1h1v-1zM2 90v1h1v-1zM2 93v1h1v-1zM2 103v1h1v-1zM2 122v1h1v-1zM3 60v1h1v-1zM3 75v1h1v-1zM3 80v1h1v-1zM3 86v1h1v-1zM3 92v2h1v-2zM3 95v1h1v-1zM3 103v1h1v-1zM3 112v1h1v-1zM3 115v1h1v-1zM4 79v1h1v-1zM4 82v1h1v-1zM4 87v2h1v-2zM4 94v1h1v-1zM4 97v1h1v-1zM4 103v1h1v-1zM4 107v2h1v-2zM4 111v2h1v-2zM4 118v1h1v-1zM5 56v1h1v-1zM5 66v1h1v-1zM5 74v1h1v-1zM5 92v3h1v-3zM5 97v1h1v-1zM5 102v1h1v-1zM5 109v1h1v-1zM6 57v1h1v-1zM6 72v1h1v-1zM6 74v1h1v-1zM6 80v1h1v-1zM6 89v1h1v-1zM6 102v1h1v-1zM6 108v1h1v-1zM6 121v1h1v-1zM7 58v2h1v-2zM7 67v1h1v-1zM7 95v2h1v-2zM7 120v1h1v-1zM8 68v2h1v-2zM8 83v2h1v-2zM8 93v1h1v-1zM8 102v1h1v-1zM8 106v1h1v-1zM8 123v1h1v-1zM9 30v1h1v-1zM9 84v2h1v-2zM9 91v1h1v-1zM9 97v1h1v-1zM9 101v2h1v-2zM9 116v1h1v-1zM9 120v1h1v-1zM10 57v1h1v-1zM10 59v1h1v-1zM10 63v1h1v-1zM10 65v1h1v-1zM10 67v1h1v-1zM10 72v1h1v-1zM10 84v1h1v-1zM10 87v1h1v-1zM10 101v1h1v-1zM11 72v1h1v-1zM11 74v1h1v-1zM11 83v1h1v-1zM11 94v1h1v-1zM11 96v1h1v-1zM11 121v1h1v-1zM11 123v1h1v-1zM12 61v1h1v-1zM12 87v1h1v-1zM12 93v1h1v-1zM12 119v1h1v-1zM13 66v1h1v-1zM13 71v1h1v-1zM13 77v1h1v-1zM13 84v1h1v-1zM13 88v1h1v-1zM13 106v1h1v-1zM14 67v2h1v-2zM14 82v1h1v-1zM14 93v1h1v-1zM14 108v1h1v-1zM15 83v1h1v-1zM15 95v1h1v-1zM15 109v1h1v-1zM15 118v1h1v-1zM16 63v1h1v-1zM16 67v1h1v-1zM16 74v1h1v-1zM16 83v1h1v-1zM16 87v1h1v-1zM16 89v1h1v-1zM16 92v1h1v-1zM16 94v1h1v-1zM16 101v1h1v-1zM16 114v1h1v-1zM16 120v1h1v-1zM17 61v1h1v-1zM17 69v1h1v-1zM17 84v1h1v-1zM17 102v1h1v-1zM17 115v1h1v-1zM17 120v1h1v-1zM18 62v1h1v-1zM18 68v1h1v-1zM18 82v1h1v-1zM18 94v1h1v-1zM18 101v1h1v-1zM18 107v1h1v-1zM18 114v1h1v-1zM18 118v1h1v-1zM19 62v1h1v-1zM19 67v1h1v-1zM19 92v1h1v-1zM19 94v1h1v-1zM19 104v1h1v-1zM19 107v1h1v-1zM19 112v1h1v-1zM20 103v1h1v-1zM20 105v1h1v-1zM20 113v1h1v-1zM20 115v1h1v-1zM20 119v1h1v-1zM20 123v1h1v-1zM21 62v1h1v-1zM21 68v1h1v-1zM21 91v1h1v-1zM21 105v1h1v-1zM21 119v2h1v-2zM22 60v1h1v-1zM22 68v1h1v-1zM22 79v1h1v-1zM22 92v1h1v-1zM22 118v1h1v-1zM24 65v1h1v-1zM24 100v1h1v-1zM24 122v2h1v-2zM25 56v1h1v-1zM25 59v1h1v-1zM25 64v2h1v-2zM25 95v1h1v-1zM26 81v1h1v-1zM26 110v1h1v-1zM27 56v2h1v-2zM27 73v1h1v-1zM27 95v1h1v-1zM27 118v2h1v-2zM28 59v1h1v-1zM28 66v1h1v-1zM28 86v1h1v-1zM28 105v1h1v-1zM28 107v2h1v-2zM28 114v1h1v-1zM28 122v1h1v-1zM29 67v2h1v-2zM29 71v2h1v-2zM29 84v1h1v-1zM29 91v1h1v-1zM29 100v1h1v-1zM29 119v1h1v-1zM30 59v1h1v-1zM30 76v1h1v-1zM30 86v2h1v-2zM30 98v2h1v-2zM30 101v1h1v-1zM30 104v2h1v-2zM30 118v1h1v-1zM31 68v1h1v-1zM31 86v1h1v-1zM31 88v1h1v-1zM31 102v1h1v-1zM32 67v1h1v-1zM32 70v1h1v-1zM32 76v1h1v-1zM32 81v1h1v-1zM32 83v1h1v-1zM32 104v1h1v-1zM32 109v1h1v-1zM33 59v1h1v-1zM33 65v1h1v-1zM33 89v1h1v-1zM33 92v1h1v-1zM33 97v1h1v-1zM34 56v1h1v-1zM34 65v1h1v-1zM34 80v1h1v-1zM34 110v2h1v-2zM35 57v1h1v-1zM35 64v1h1v-1zM36 66v1h1v-1zM36 72v1h1v-1zM36 76v1h1v-1zM39 75v1h1v-1zM39 85v1h1v-1zM39 102v1h1v-1zM40 55v2h1v-2zM40 68v1h1v-1zM40 78v1h1v-1zM40 85v1h1v-1zM40 90v1h1v-1zM40 100v1h1v-1zM40 120v1h1v-1zM41 77v2h1v-2zM41 82v1h1v-1zM41 114v1h1v-1zM41 117v1h1v-1zM41 123v1h1v-1zM42 62v1h1v-1zM42 68v2h1v-2zM42 76v1h1v-1zM42 83v1h1v-1zM42 88v1h1v-1zM42 121v1h1v-1zM43 66v1h1v-1zM43 70v3h1v-3zM43 81v2h1v-2zM43 90v1h1v-1zM43 93v1h1v-1zM43 100v1h1v-1zM43 104v2h1v-2zM43 107v1h1v-1zM43 114v1h1v-1zM43 117v1h1v-1zM44 96v1h1v-1zM45 73v1h1v-1zM45 118v1h1v-1zM46 69v1h1v-1zM46 86v1h1v-1zM46 99v1h1v-1zM46 116v1h1v-1zM46 122v1h1v-1zM48 86v1h1v-1zM48 91v1h1v-1zM48 123v1h1v-1zM49 98v2h1v-2zM50 78v1h1v-1zM50 85v1h1v-1zM50 99v1h1v-1zM51 78v1h1v-1zM52 69v1h1v-1zM52 75v1h1v-1zM52 79v1h1v-1zM52 98v3h1v-3zM52 103v1h1v-1zM53 85v1h1v-1zM53 99v1h1v-1zM53 116v1h1v-1zM54 61v1h1v-1zM54 68v1h1v-1zM54 71v2h1v-2zM54 102v1h1v-1zM54 106v1h1v-1zM54 117v1h1v-1zM54 119v1h1v-1zM54 123v1h1v-1zM55 93v1h1v-1zM55 102v2h1v-2zM55 106v1h1v-1zM55 118v1h1v-1zM55 122v1h1v-1zM56 62v1h1v-1zM56 65v2h1v-2zM56 72v1h1v-1zM56 83v1h1v-1zM56 104v1h1v-1zM57 68v1h1v-1zM57 84v1h1v-1zM57 91v1h1v-1zM57 115v1h1v-1zM57 117v1h1v-1zM57 119v1h1v-1zM57 121v2h1v-2zM58 90v1h1v-1zM59 115v2h1v-2z"/>
<path fill="#f8f7b1" d="M1 68v1h1v-1zM1 71v1h1v-1zM1 83v1h1v-1zM1 88v1h1v-1zM1 101v1h1v-1zM1 104v1h1v-1zM1 112v1h1v-1zM1 118v1h1v-1zM1 121v1h1v-1zM2 59v1h1v-1zM2 65v1h1v-1zM2 89v1h1v-1zM3 59v1h1v-1zM3 65v1h1v-1zM3 69v2h1v-2zM3 82v1h1v-1zM3 97v1h1v-1zM3 104v1h1v-1zM3 109v1h1v-1zM3 111v1h1v-1zM3 120v1h1v-1zM4 67v1h1v-1zM4 80v1h1v-1zM4 96v1h1v-1zM5 65v1h1v-1zM5 88v1h1v-1zM5 101v1h1v-1zM5 107v1h1v-1zM5 111v1h1v-1zM5 118v2h1v-2zM6 65v1h1v-1zM6 81v1h1v-1zM7 65v1h1v-1zM7 81v1h1v-1zM7 109v1h1v-1zM8 63v1h1v-1zM8 70v2h1v-2zM8 107v1h1v-1zM8 109v1h1v-1zM8 119v1h1v-1zM8 122v1h1v-1zM9 61v2h1v-2zM9 92v2h1v-2zM9 105v1h1v-1zM9 112v1h1v-1zM9 118v2h1v-2zM10 70v1h1v-1zM10 89v1h1v-1zM10 97v1h1v-1zM10 109v1h1v-1zM10 111v1h1v-1zM10 118v1h1v-1zM11 56v1h1v-1zM11 62v1h1v-1zM11 70v2h1v-2zM11 76v1h1v-1zM11 88v1h1v-1zM11 95v1h1v-1zM12 59v1h1v-1zM12 70v1h1v-1zM12 91v1h1v-1zM12 100v1h1v-1zM12 104v1h1v-1zM12 109v1h1v-1zM12 112v4h1v-4zM12 120v1h1v-1zM13 62v1h1v-1zM13 70v1h1v-1zM13 87v1h1v-1zM13 94v1h1v-1zM13 104v2h1v-2zM13 114v2h1v-2zM13 117v2h1v-2zM13 120v1h1v-1zM14 64v1h1v-1zM14 73v1h1v-1zM14 80v2h1v-2zM14 95v1h1v-1zM14 109v1h1v-1zM14 118v1h1v-1zM15 57v2h1v-2zM15 63v1h1v-1zM15 81v1h1v-1zM16 79v1h1v-1zM17 79v1h1v-1zM17 83v1h1v-1zM17 88v2h1v-2zM17 97v2h1v-2zM17 104v2h1v-2zM17 112v1h1v-1zM17 114v1h1v-1zM18 67v1h1v-1zM18 71v1h1v-1zM18 74v1h1v-1zM18 88v1h1v-1zM18 90v3h1v-3zM18 106v1h1v-1zM18 108v2h1v-2zM18 117v1h1v-1zM19 71v1h1v-1zM19 81v1h1v-1zM19 83v1h1v-1zM19 109v1h1v-1zM19 119v1h1v-1zM19 121v1h1v-1zM20 61v1h1v-1zM20 77v2h1v-2zM20 99v1h1v-1zM20 116v1h1v-1zM21 71v1h1v-1zM21 86v1h1v-1zM21 97v1h1v-1zM21 102v1h1v-1zM21 113v1h1v-1zM21 122v1h1v-1zM22 66v1h1v-1zM22 90v1h1v-1zM22 117v1h1v-1zM23 103v1h1v-1zM24 66v1h1v-1zM24 71v1h1v-1zM24 76v1h1v-1zM24 83v1h1v-1zM24 94v1h1v-1zM24 99v1h1v-1zM24 104v3h1v-3zM24 108v2h1v-2zM24 114v1h1v-1zM24 120v1h1v-1zM25 57v2h1v-2zM25 88v1h1v-1zM25 96v1h1v-1zM25 108v1h1v-1zM26 73v1h1v-1zM26 95v1h1v-1zM27 58v1h1v-1zM27 63v1h1v-1zM27 65v1h1v-1zM27 87v1h1v-1zM28 71v1h1v-1zM28 75v1h1v-1zM28 79v1h1v-1zM28 81v1h1v-1zM28 92v1h1v-1zM28 103v1h1v-1zM28 120v1h1v-1zM29 61v1h1v-1zM29 70v1h1v-1zM29 74v1h1v-1zM29 79v1h1v-1zM29 109v1h1v-1zM29 121v1h1v-1zM30 67v1h1v-1zM30 80v1h1v-1zM30 103v1h1v-1zM31 62v1h1v-1zM31 82v1h1v-1zM31 93v1h1v-1zM31 98v1h1v-1zM31 120v1h1v-1zM31 122v1h1v-1zM32 56v1h1v-1zM32 65v2h1v-2zM32 80v1h1v-1zM32 94v1h1v-1zM32 108v1h1v-1zM33 63v2h1v-2zM33 70v1h1v-1zM33 94v1h1v-1zM33 102v1h1v-1zM33 109v1h1v-1zM33 111v1h1v-1zM34 73v1h1v-1zM35 58v1h1v-1zM35 73v1h1v-1zM35 95v1h1v-1zM35 100v1h1v-1zM36 56v1h1v-1zM36 62v2h1v-2zM36 75v1h1v-1zM36 79v2h1v-2zM36 84v1h1v-1zM36 104v1h1v-1zM36 106v1h1v-1zM36 111v1h1v-1zM36 117v2h1v-2zM37 60v1h1v-1zM38 69v1h1v-1zM39 59v1h1v-1zM39 69v1h1v-1zM39 78v2h1v-2zM39 83v1h1v-1zM39 91v1h1v-1zM39 98v2h1v-2zM39 123v1h1v-1zM40 69v1h1v-1zM40 71v1h1v-1zM40 79v1h1v-1zM40 117v1h1v-1zM41 62v1h1v-1zM41 71v1h1v-1zM41 75v1h1v-1zM41 79v1h1v-1zM41 83v1h1v-1zM41 91v1h1v-1zM41 102v1h1v-1zM41 105v1h1v-1zM41 107v1h1v-1zM42 71v1h1v-1zM42 89v1h1v-1zM42 91v1h1v-1zM42 114v1h1v-1zM42 120v1h1v-1zM43 67v1h1v-1zM43 101v1h1v-1zM43 118v1h1v-1zM44 81v1h1v-1zM45 57v1h1v-1zM45 65v1h1v-1zM45 95v1h1v-1zM45 111v1h1v-1zM46 68v1h1v-1zM46 88v1h1v-1zM46 101v1h1v-1zM46 115v1h1v-1zM47 69v1h1v-1zM48 77v1h1v-1zM48 79v1h1v-1zM49 68v1h1v-1zM49 79v1h1v-1zM49 113v1h1v-1zM49 116v1h1v-1zM50 68v1h1v-1zM51 68v1h1v-1zM51 84v2h1v-2zM51 99v1h1v-1zM52 70v1h1v-1zM52 85v1h1v-1zM52 102v1h1v-1zM52 105v2h1v-2zM52 113v3h1v-3zM53 74v1h1v-1zM53 121v1h1v-1zM53 123v1h1v-1zM54 94v2h1v-2zM54 97v1h1v-1zM54 107v1h1v-1zM54 114v1h1v-1zM55 62v1h1v-1zM55 67v1h1v-1zM55 95v1h1v-1zM55 101v1h1v-1zM55 121v1h1v-1zM56 70v1h1v-1zM56 82v1h1v-1zM56 87v1h1v-1zM56 109v1h1v-1zM56 118v1h1v-1zM56 120v1h1v-1zM57 65v1h1v-1zM57 72v1h1v-1zM57 76v1h1v-1zM57 93v1h1v-1zM57 101v1h1v-1zM57 106v1h1v-1zM57 112v1h1v-1zM58 100v1h1v-1zM59 61v1h1v-1z"/>
<path fill="#f8f6a6" d="M1 59v1h1v-1zM1 66v1h1v-1zM1 70v1h1v-1zM1 100v1h1v-1zM1 102v1h1v-1zM1 120v1h1v-1zM2 39v1h1v-1zM2 52v2h1v-2zM2 55v1h1v-1zM2 62v1h1v-1zM2 67v1h1v-1zM2 82v1h1v-1zM2 94v1h1v-1zM2 110v1h1v-1zM2 120v1h1v-1zM3 57v1h1v-1zM3 67v1h1v-1zM3 81v1h1v-1zM3 118v1h1v-1zM4 44v2h1v-2zM4 56v2h1v-2zM4 65v1h1v-1zM4 101v1h1v-1zM4 109v1h1v-1zM4 114v1h1v-1zM5 47v1h1v-1zM5 57v1h1v-1zM5 59v1h1v-1zM5 70v1h1v-1zM5 96v1h1v-1zM6 44v1h1v-1zM6 63v1h1v-1zM6 66v2h1v-2zM7 64v1h1v-1zM7 82v1h1v-1zM7 111v1h1v-1zM7 118v1h1v-1zM8 45v1h1v-1zM8 47v1h1v-1zM8 52v1h1v-1zM8 72v1h1v-1zM8 77v1h1v-1zM8 89v1h1v-1zM8 95v1h1v-1zM8 100v1h1v-1zM8 112v1h1v-1zM9 65v1h1v-1zM9 70v2h1v-2zM9 88v1h1v-1zM9 94v1h1v-1zM9 104v1h1v-1zM10 64v1h1v-1zM10 94v1h1v-1zM10 104v1h1v-1zM11 65v1h1v-1zM11 67v1h1v-1zM11 82v1h1v-1zM11 104v1h1v-1zM11 107v2h1v-2zM11 118v1h1v-1zM12 58v1h1v-1zM12 65v1h1v-1zM12 88v1h1v-1zM12 90v1h1v-1zM12 94v1h1v-1zM12 102v2h1v-2zM12 105v3h1v-3zM13 58v1h1v-1zM13 64v1h1v-1zM13 67v1h1v-1zM13 89v1h1v-1zM13 93v1h1v-1zM13 95v1h1v-1zM13 100v2h1v-2zM14 46v1h1v-1zM14 63v1h1v-1zM15 43v1h1v-1zM15 52v1h1v-1zM15 64v1h1v-1zM15 89v1h1v-1zM15 110v1h1v-1zM16 42v1h1v-1zM16 55v1h1v-1zM16 57v1h1v-1zM16 62v1h1v-1zM16 65v1h1v-1zM16 72v1h1v-1zM16 76v1h1v-1zM16 80v1h1v-1zM16 93v1h1v-1zM16 108v1h1v-1zM16 112v1h1v-1zM16 117v1h1v-1zM17 59v1h1v-1zM17 66v1h1v-1zM17 91v2h1v-2zM17 100v1h1v-1zM17 106v1h1v-1zM17 122v1h1v-1zM18 55v2h1v-2zM18 76v1h1v-1zM18 86v2h1v-2zM18 89v1h1v-1zM18 97v1h1v-1zM18 104v1h1v-1zM19 72v1h1v-1zM19 80v1h1v-1zM19 101v1h1v-1zM19 110v1h1v-1zM19 117v2h1v-2zM20 59v1h1v-1zM20 66v1h1v-1zM20 71v1h1v-1zM20 76v1h1v-1zM20 79v1h1v-1zM20 98v1h1v-1zM20 106v1h1v-1zM20 120v1h1v-1zM20 122v1h1v-1zM21 79v1h1v-1zM21 88v1h1v-1zM21 93v2h1v-2zM21 99v1h1v-1zM21 103v1h1v-1zM21 117v1h1v-1zM21 121v1h1v-1zM22 59v1h1v-1zM22 62v1h1v-1zM22 85v1h1v-1zM22 87v1h1v-1zM22 103v1h1v-1zM22 115v1h1v-1zM22 122v1h1v-1zM23 53v1h1v-1zM23 68v1h1v-1zM23 77v1h1v-1zM23 101v2h1v-2zM23 115v1h1v-1zM23 123v1h1v-1zM24 55v1h1v-1zM24 89v1h1v-1zM25 111v1h1v-1zM26 58v1h1v-1zM26 64v1h1v-1zM27 110v1h1v-1zM28 62v1h1v-1zM28 67v1h1v-1zM28 83v1h1v-1zM28 95v1h1v-1zM28 97v1h1v-1zM28 104v1h1v-1zM29 59v1h1v-1zM29 63v1h1v-1zM29 65v1h1v-1zM29 82v1h1v-1zM29 90v1h1v-1zM29 94v1h1v-1zM29 103v2h1v-2zM29 107v2h1v-2zM29 112v1h1v-1zM30 82v2h1v-2zM30 90v1h1v-1zM31 79v1h1v-1zM31 81v1h1v-1zM31 97v1h1v-1zM31 107v1h1v-1zM31 110v1h1v-1zM31 118v1h1v-1zM32 63v1h1v-1zM32 74v1h1v-1zM32 95v1h1v-1zM32 103v1h1v-1zM33 67v1h1v-1zM33 81v2h1v-2zM33 95v1h1v-1zM33 105v1h1v-1zM33 107v1h1v-1zM34 64v1h1v-1zM36 65v1h1v-1zM36 67v1h1v-1zM36 81v1h1v-1zM36 97v1h1v-1zM36 107v1h1v-1zM37 71v1h1v-1zM37 77v2h1v-2zM37 85v1h1v-1zM37 112v1h1v-1zM37 122v2h1v-2zM39 77v1h1v-1zM39 84v1h1v-1zM39 90v1h1v-1zM39 92v1h1v-1zM39 108v1h1v-1zM39 114v1h1v-1zM39 117v1h1v-1zM39 119v1h1v-1zM40 74v1h1v-1zM40 76v1h1v-1zM40 119v1h1v-1zM40 121v1h1v-1zM41 98v1h1v-1zM41 101v1h1v-1zM42 67v1h1v-1zM42 84v1h1v-1zM42 100v2h1v-2zM42 107v1h1v-1zM42 122v1h1v-1zM43 95v1h1v-1zM43 108v1h1v-1zM43 110v2h1v-2zM44 110v1h1v-1zM46 71v2h1v-2zM46 79v1h1v-1zM46 89v1h1v-1zM46 105v1h1v-1zM48 68v1h1v-1zM48 78v1h1v-1zM48 85v1h1v-1zM48 89v1h1v-1zM48 102v2h1v-2zM48 106v1h1v-1zM49 76v1h1v-1zM49 84v2h1v-2zM49 89v2h1v-2zM49 103v1h1v-1zM49 115v1h1v-1zM50 109v1h1v-1zM51 69v1h1v-1zM51 75v1h1v-1zM51 77v1h1v-1zM51 98v1h1v-1zM51 101v1h1v-1zM51 103v1h1v-1zM51 105v1h1v-1zM51 123v1h1v-1zM52 91v1h1v-1zM52 93v1h1v-1zM52 108v1h1v-1zM52 119v1h1v-1zM52 121v1h1v-1zM53 64v1h1v-1zM53 68v1h1v-1zM53 70v1h1v-1zM53 72v1h1v-1zM53 100v1h1v-1zM53 106v1h1v-1zM53 112v1h1v-1zM53 114v1h1v-1zM54 76v1h1v-1zM54 93v1h1v-1zM54 96v1h1v-1zM54 100v1h1v-1zM54 104v1h1v-1zM54 108v2h1v-2zM54 112v2h1v-2zM54 120v1h1v-1zM55 82v1h1v-1zM55 104v1h1v-1zM55 114v1h1v-1zM56 81v1h1v-1zM56 88v1h1v-1zM56 111v1h1v-1zM57 62v1h1v-1zM57 71v1h1v-1zM57 74v1h1v-1zM57 86v1h1v-1zM57 90v1h1v-1zM57 118v1h1v-1zM58 101v1h1v-1zM58 112v1h1v-1zM58 114v2h1v-2zM58 120v1h1v-1zM58 122v1h1v-1zM59 69v1h1v-1zM59 71v1h1v-1zM59 77v1h1v-1zM59 86v1h1v-1zM59 98v1h1v-1zM59 100v1h1v-1zM59 106v1h1v-1zM59 112v2h1v-2zM60 89v1h1v-1zM60 99v1h1v-1zM61 87v1h1v-1zM61 92v1h1v-1zM61 109v1h1v-1zM62 74v1h1v-1zM62 87v1h1v-1zM64 109v2h1v-2zM65 107v1h1v-1zM65 112v1h1v-1zM65 117v1h1v-1zM66 87v1h1v-1zM66 93v1h1v-1zM66 106v1h1v-1zM66 117v1h1v-1zM67 104v1h1v-1zM67 122v1h1v-1zM68 101v2h1v-2zM68 110v1h1v-1zM69 89v1h1v-1zM69 98v1h1v-1zM69 108v1h1v-1zM69 112v1h1v-1zM69 116v1h1v-1zM69 121v1h1v-1zM71 109v1h1v-1zM72 106v1h1v-1zM73 111v1h1v-1zM75 93v1h1v-1zM75 109v1h1v-1zM78 87v1h1v-1zM78 106v1h1v-1zM78 113v2h1v-2zM78 116v1h1v-1zM80 97v1h1v-1zM81 95v1h1v-1zM81 105v1h1v-1zM82 105v1h1v-1zM82 115v1h1v-1zM83 95v1h1v-1zM83 98v1h1v-1zM97 105v2h1v-2z"/>
<path fill="#f7f49b" d="M0 46v2h1v-2zM1 46v2h1v-2zM1 58v1h1v-1zM1 62v1h1v-1zM1 65v1h1v-1zM1 67v1h1v-1zM1 80v2h1v-2zM1 97v1h1v-1zM1 103v1h1v-1zM1 105v1h1v-1zM1 119v1h1v-1zM2 24v2h1v-2zM2 56v1h1v-1zM2 72v2h1v-2zM2 101v1h1v-1zM2 104v1h1v-1zM2 121v1h1v-1zM3 56v1h1v-1zM3 62v1h1v-1zM3 64v1h1v-1zM3 66v1h1v-1zM3 71v1h1v-1zM3 73v1h1v-1zM3 94v1h1v-1zM3 96v1h1v-1zM3 107v1h1v-1zM4 64v1h1v-1zM4 66v1h1v-1zM4 73v1h1v-1zM4 95v1h1v-1zM4 110v1h1v-1zM5 63v1h1v-1zM5 72v1h1v-1zM5 87v1h1v-1zM5 121v1h1v-1zM6 73v1h1v-1zM6 95v1h1v-1zM6 101v1h1v-1zM6 110v2h1v-2zM7 110v1h1v-1zM8 22v1h1v-1zM8 24v2h1v-2zM8 27v1h1v-1zM8 30v1h1v-1zM8 32v2h1v-2zM8 35v1h1v-1zM8 59v1h1v-1zM8 62v1h1v-1zM8 75v1h1v-1zM8 80v1h1v-1zM8 94v1h1v-1zM8 104v1h1v-1zM8 108v1h1v-1zM8 117v1h1v-1zM9 15v1h1v-1zM9 63v1h1v-1zM9 73v1h1v-1zM9 87v1h1v-1zM9 100v1h1v-1zM9 103v1h1v-1zM9 114v1h1v-1zM9 117v1h1v-1zM9 122v1h1v-1zM10 23v1h1v-1zM10 35v1h1v-1zM10 56v1h1v-1zM10 80v1h1v-1zM10 95v1h1v-1zM10 121v1h1v-1zM11 58v1h1v-1zM11 63v1h1v-1zM11 105v1h1v-1zM11 109v1h1v-1zM11 111v1h1v-1zM12 62v1h1v-1zM12 66v1h1v-1zM12 83v2h1v-2zM12 97v1h1v-1zM12 101v1h1v-1zM13 63v1h1v-1zM13 74v1h1v-1zM14 22v1h1v-1zM14 24v2h1v-2zM14 27v1h1v-1zM14 30v1h1v-1zM14 32v2h1v-2zM14 35v1h1v-1zM14 38v1h1v-1zM14 40v1h1v-1zM14 56v1h1v-1zM14 58v1h1v-1zM14 65v1h1v-1zM14 110v1h1v-1zM15 66v1h1v-1zM16 58v1h1v-1zM16 64v1h1v-1zM16 70v1h1v-1zM16 96v1h1v-1zM16 109v1h1v-1zM17 73v1h1v-1zM17 76v1h1v-1zM17 81v1h1v-1zM17 86v1h1v-1zM17 108v1h1v-1zM17 118v1h1v-1zM17 123v1h1v-1zM18 58v1h1v-1zM18 65v1h1v-1zM18 73v1h1v-1zM18 81v1h1v-1zM18 93v1h1v-1zM18 95v1h1v-1zM19 88v1h1v-1zM19 96v1h1v-1zM19 108v1h1v-1zM20 67v1h1v-1zM20 75v1h1v-1zM20 86v1h1v-1zM20 88v1h1v-1zM20 90v2h1v-2zM20 100v1h1v-1zM20 112v1h1v-1zM21 63v1h1v-1zM21 67v1h1v-1zM21 70v1h1v-1zM21 74v1h1v-1zM21 90v1h1v-1zM21 92v1h1v-1zM21 104v1h1v-1zM21 118v1h1v-1zM22 67v1h1v-1zM22 71v1h1v-1zM22 76v1h1v-1zM22 83v1h1v-1zM22 91v1h1v-1zM22 93v1h1v-1zM22 112v1h1v-1zM22 119v1h1v-1zM23 75v1h1v-1zM23 78v2h1v-2zM23 86v1h1v-1zM23 98v2h1v-2zM23 104v1h1v-1zM23 113v1h1v-1zM23 120v1h1v-1zM24 57v1h1v-1zM24 59v1h1v-1zM24 67v1h1v-1zM24 72v1h1v-1zM24 91v1h1v-1zM24 97v1h1v-1zM24 110v1h1v-1zM28 65v1h1v-1zM28 93v1h1v-1zM28 109v1h1v-1zM28 118v1h1v-1zM29 56v1h1v-1zM29 62v1h1v-1zM29 93v1h1v-1zM29 110v1h1v-1zM30 47v1h1v-1zM30 56v1h1v-1zM30 66v1h1v-1zM30 70v1h1v-1zM30 73v1h1v-1zM30 88v1h1v-1zM30 110v1h1v-1zM31 67v1h1v-1zM31 70v1h1v-1zM31 100v1h1v-1zM31 103v1h1v-1zM31 108v1h1v-1zM31 111v1h1v-1zM32 47v1h1v-1zM32 62v1h1v-1zM32 110v2h1v-2zM33 47v1h1v-1zM33 57v1h1v-1zM33 80v1h1v-1zM33 110v1h1v-1zM34 58v1h1v-1zM35 47v1h1v-1zM36 57v1h1v-1zM36 64v1h1v-1zM36 70v1h1v-1zM36 82v1h1v-1zM36 95v1h1v-1zM36 109v1h1v-1zM37 84v1h1v-1zM37 100v1h1v-1zM37 102v1h1v-1zM37 121v1h1v-1zM38 77v1h1v-1zM38 91v1h1v-1zM39 65v1h1v-1zM39 82v1h1v-1zM39 94v1h1v-1zM39 100v1h1v-1zM39 103v1h1v-1zM39 106v1h1v-1zM39 112v1h1v-1zM40 54v1h1v-1zM40 59v1h1v-1zM40 75v1h1v-1zM40 86v1h1v-1zM40 89v1h1v-1zM40 92v1h1v-1zM40 94v1h1v-1zM40 112v1h1v-1zM40 114v1h1v-1zM40 118v1h1v-1zM40 122v1h1v-1zM41 59v1h1v-1zM41 68v2h1v-2zM41 76v1h1v-1zM41 84v1h1v-1zM41 87v1h1v-1zM41 106v1h1v-1zM41 108v1h1v-1zM41 112v1h1v-1zM41 118v2h1v-2zM42 56v1h1v-1zM42 79v1h1v-1zM42 90v1h1v-1zM42 94v1h1v-1zM42 105v1h1v-1zM42 118v1h1v-1zM43 57v2h1v-2zM43 63v1h1v-1zM43 65v1h1v-1zM43 97v1h1v-1zM43 109v1h1v-1zM46 57v1h1v-1zM46 70v1h1v-1zM46 75v1h1v-1zM46 102v1h1v-1zM46 106v1h1v-1zM46 119v2h1v-2zM47 56v1h1v-1zM47 61v1h1v-1zM47 116v1h1v-1zM48 62v1h1v-1zM48 76v1h1v-1zM48 84v1h1v-1zM48 90v1h1v-1zM48 92v2h1v-2zM48 98v1h1v-1zM48 100v1h1v-1zM48 115v1h1v-1zM48 117v5h1v-5zM49 63v1h1v-1zM49 71v1h1v-1zM49 86v1h1v-1zM49 93v1h1v-1zM49 100v1h1v-1zM49 102v1h1v-1zM49 112v1h1v-1zM49 117v1h1v-1zM50 76v1h1v-1zM50 92v1h1v-1zM50 100v1h1v-1zM50 106v1h1v-1zM50 123v1h1v-1zM51 76v1h1v-1zM51 79v1h1v-1zM51 113v1h1v-1zM51 115v1h1v-1zM51 122v1h1v-1zM52 56v2h1v-2zM52 67v2h1v-2zM52 76v1h1v-1zM52 88v2h1v-2zM52 97v1h1v-1zM52 117v1h1v-1zM52 123v1h1v-1zM53 75v1h1v-1zM53 83v1h1v-1zM53 90v1h1v-1zM53 93v1h1v-1zM53 98v1h1v-1zM53 107v1h1v-1zM53 109v1h1v-1zM53 120v1h1v-1zM54 79v1h1v-1zM54 82v1h1v-1zM54 87v2h1v-2zM54 90v1h1v-1zM54 118v1h1v-1zM54 122v1h1v-1zM55 88v1h1v-1zM56 57v1h1v-1zM56 64v1h1v-1zM57 58v1h1v-1zM57 64v1h1v-1zM57 66v1h1v-1zM57 70v1h1v-1zM57 82v2h1v-2zM57 89v1h1v-1zM57 92v1h1v-1zM57 107v4h1v-4zM58 67v1h1v-1zM58 71v2h1v-2zM58 84v2h1v-2zM58 87v1h1v-1zM58 89v1h1v-1zM58 102v1h1v-1zM58 117v1h1v-1zM59 62v1h1v-1zM59 74v1h1v-1zM59 84v2h1v-2zM59 89v1h1v-1zM59 92v1h1v-1zM84 87v1h1v-1zM84 90v10h1v-10zM87 100v1h1v-1zM87 103v1h1v-1zM87 106v1h1v-1zM87 110v1h1v-1zM87 112v1h1v-1zM87 114v4h1v-4zM87 121v1h1v-1zM88 100v1h1v-1zM88 102v1h1v-1zM89 101v1h1v-1zM90 100v2h1v-2zM95 102v1h1v-1zM97 102v1h1v-1zM101 102v1h1v-1zM101 122v1h1v-1zM102 107v3h1v-3zM103 105v1h1v-1zM104 105v1h1v-1zM104 107v2h1v-2zM105 122v1h1v-1zM107 122v1h1v-1zM109 113v1h1v-1zM113 118v1h1v-1zM113 120v2h1v-2z"/>
<path fill="#f6f390" d="M1 42v1h1v-1zM1 64v1h1v-1zM1 72v1h1v-1zM1 94v1h1v-1zM1 117v1h1v-1zM2 45v1h1v-1zM2 64v1h1v-1zM2 97v1h1v-1zM2 100v1h1v-1zM3 63v1h1v-1zM4 63v1h1v-1zM5 44v1h1v-1zM5 58v1h1v-1zM5 64v1h1v-1zM6 64v1h1v-1zM7 42v1h1v-1zM7 55v1h1v-1zM8 65v3h1v-3zM8 73v1h1v-1zM8 87v1h1v-1zM8 97v1h1v-1zM8 110v1h1v-1zM8 118v1h1v-1zM9 56v1h1v-1zM9 59v1h1v-1zM9 80v1h1v-1zM9 89v2h1v-2zM9 106v1h1v-1zM9 113v1h1v-1zM9 121v1h1v-1zM10 96v1h1v-1zM11 110v1h1v-1zM12 56v2h1v-2zM12 64v1h1v-1zM12 72v1h1v-1zM12 82v1h1v-1zM12 89v1h1v-1zM12 111v1h1v-1zM12 117v2h1v-2zM13 53v1h1v-1zM13 65v1h1v-1zM13 72v1h1v-1zM13 82v1h1v-1zM13 107v2h1v-2zM14 45v1h1v-1zM14 57v1h1v-1zM16 52v1h1v-1zM16 110v1h1v-1zM16 118v1h1v-1zM17 46v1h1v-1zM17 62v2h1v-2zM17 82v1h1v-1zM17 93v2h1v-2zM17 101v1h1v-1zM17 107v1h1v-1zM17 109v1h1v-1zM18 64v1h1v-1zM18 72v1h1v-1zM18 96v1h1v-1zM18 110v1h1v-1zM20 63v1h1v-1zM20 70v1h1v-1zM20 72v1h1v-1zM20 83v1h1v-1zM20 92v1h1v-1zM20 101v1h1v-1zM20 109v1h1v-1zM20 117v1h1v-1zM20 121v1h1v-1zM21 64v1h1v-1zM21 66v1h1v-1zM21 76v1h1v-1zM21 83v1h1v-1zM22 63v1h1v-1zM22 70v1h1v-1zM22 72v1h1v-1zM22 74v1h1v-1zM22 81v1h1v-1zM22 88v1h1v-1zM22 105v1h1v-1zM22 120v2h1v-2zM23 54v1h1v-1zM23 61v1h1v-1zM23 71v1h1v-1zM23 76v1h1v-1zM23 90v1h1v-1zM23 92v1h1v-1zM23 100v1h1v-1zM23 112v1h1v-1zM23 116v2h1v-2zM23 122v1h1v-1zM24 45v1h1v-1zM24 47v1h1v-1zM24 63v1h1v-1zM24 74v1h1v-1zM24 98v1h1v-1zM25 47v1h1v-1zM25 54v1h1v-1zM25 110v1h1v-1zM26 57v1h1v-1zM28 58v1h1v-1zM28 87v1h1v-1zM28 94v1h1v-1zM28 110v1h1v-1zM29 81v1h1v-1zM29 97v1h1v-1zM29 101v1h1v-1zM29 111v1h1v-1zM29 118v1h1v-1zM30 81v1h1v-1zM30 93v2h1v-2zM30 97v1h1v-1zM30 109v1h1v-1zM31 65v1h1v-1zM31 73v1h1v-1zM31 80v1h1v-1zM31 87v1h1v-1zM31 94v1h1v-1zM31 101v1h1v-1zM31 104v1h1v-1zM31 109v1h1v-1zM32 73v1h1v-1zM33 73v1h1v-1zM36 52v1h1v-1zM36 59v1h1v-1zM37 59v1h1v-1zM37 66v1h1v-1zM37 76v1h1v-1zM37 82v1h1v-1zM37 86v1h1v-1zM37 91v1h1v-1zM37 99v1h1v-1zM37 114v2h1v-2zM38 61v1h1v-1zM38 68v1h1v-1zM38 84v1h1v-1zM38 113v1h1v-1zM39 68v1h1v-1zM39 76v1h1v-1zM39 101v1h1v-1zM39 113v1h1v-1zM39 121v2h1v-2zM40 70v1h1v-1zM40 80v2h1v-2zM40 87v2h1v-2zM40 93v1h1v-1zM40 97v1h1v-1zM40 101v1h1v-1zM40 105v1h1v-1zM40 110v2h1v-2zM41 56v1h1v-1zM41 63v1h1v-1zM41 65v1h1v-1zM41 72v1h1v-1zM41 89v1h1v-1zM41 92v2h1v-2zM42 57v1h1v-1zM42 65v1h1v-1zM42 80v1h1v-1zM42 106v1h1v-1zM43 64v1h1v-1zM43 80v1h1v-1zM46 66v1h1v-1zM46 90v1h1v-1zM46 104v1h1v-1zM46 114v1h1v-1zM46 117v1h1v-1zM46 121v1h1v-1zM47 79v1h1v-1zM47 85v1h1v-1zM47 99v1h1v-1zM47 113v1h1v-1zM47 115v1h1v-1zM47 123v1h1v-1zM48 66v1h1v-1zM48 75v1h1v-1zM48 83v1h1v-1zM48 99v1h1v-1zM48 101v1h1v-1zM48 105v1h1v-1zM49 70v1h1v-1zM49 72v1h1v-1zM49 74v1h1v-1zM49 83v1h1v-1zM49 88v1h1v-1zM49 104v1h1v-1zM49 114v1h1v-1zM49 121v2h1v-2zM50 77v1h1v-1zM50 103v1h1v-1zM50 114v1h1v-1zM50 119v1h1v-1zM51 80v1h1v-1zM51 89v1h1v-1zM51 91v3h1v-3zM51 100v1h1v-1zM51 104v1h1v-1zM51 112v1h1v-1zM51 119v1h1v-1zM52 71v3h1v-3zM52 82v3h1v-3zM52 112v1h1v-1zM52 120v1h1v-1zM53 82v1h1v-1zM53 88v1h1v-1zM53 92v1h1v-1zM53 101v1h1v-1zM53 104v1h1v-1zM53 117v1h1v-1zM53 122v1h1v-1zM54 81v1h1v-1zM54 101v1h1v-1zM54 103v1h1v-1zM56 110v1h1v-1zM57 87v1h1v-1zM58 62v1h1v-1zM58 74v1h1v-1zM58 76v1h1v-1zM58 92v1h1v-1zM58 103v1h1v-1zM58 105v4h1v-4zM58 118v2h1v-2zM59 68v1h1v-1zM59 76v1h1v-1zM59 79v1h1v-1zM59 88v1h1v-1zM59 107v1h1v-1zM59 119v1h1v-1zM59 121v1h1v-1zM60 83v1h1v-1zM60 92v1h1v-1zM60 95v1h1v-1zM60 97v2h1v-2zM60 105v1h1v-1zM60 111v1h1v-1zM60 113v1h1v-1zM61 74v1h1v-1zM61 77v1h1v-1zM61 95v1h1v-1zM61 99v3h1v-3zM61 104v1h1v-1zM61 108v1h1v-1zM61 115v1h1v-1zM62 71v1h1v-1zM62 88v1h1v-1zM62 102v1h1v-1zM62 105v1h1v-1zM62 113v1h1v-1zM64 74v1h1v-1zM64 104v1h1v-1zM65 88v1h1v-1zM66 81v1h1v-1zM66 92v1h1v-1zM66 103v1h1v-1zM66 116v1h1v-1zM67 106v1h1v-1zM67 113v1h1v-1zM67 115v1h1v-1zM67 118v1h1v-1zM68 85v1h1v-1zM69 83v1h1v-1zM69 85v1h1v-1zM69 109v1h1v-1zM70 91v1h1v-1zM71 97v1h1v-1zM71 104v1h1v-1zM72 91v1h1v-1zM72 111v1h1v-1zM73 90v1h1v-1zM75 99v1h1v-1zM76 119v1h1v-1zM78 90v1h1v-1zM78 98v2h1v-2zM78 104v1h1v-1zM78 124v1h1v-1zM82 106v1h1v-1zM83 106v1h1v-1zM83 111v1h1v-1zM83 114v1h1v-1zM83 117v1h1v-1zM95 106v1h1v-1zM97 109v1h1v-1z"/>
<path fill="#f5f285" d="M1 82v1h1v-1zM1 107v1h1v-1zM1 109v2h1v-2zM2 58v1h1v-1zM5 95v1h1v-1zM6 58v1h1v-1zM8 56v1h1v-1zM8 58v1h1v-1zM8 64v1h1v-1zM8 81v1h1v-1zM8 121v1h1v-1zM9 57v1h1v-1zM9 108v1h1v-1zM10 58v1h1v-1zM11 57v1h1v-1zM11 64v1h1v-1zM11 73v1h1v-1zM12 95v2h1v-2zM13 57v1h1v-1zM13 96v1h1v-1zM16 82v1h1v-1zM16 95v1h1v-1zM16 97v1h1v-1zM17 56v1h1v-1zM17 67v1h1v-1zM17 72v1h1v-1zM17 74v1h1v-1zM17 80v1h1v-1zM17 110v1h1v-1zM19 73v1h1v-1zM20 87v1h1v-1zM20 93v1h1v-1zM20 95v1h1v-1zM20 104v1h1v-1zM20 107v1h1v-1zM21 58v2h1v-2zM21 65v1h1v-1zM21 89v1h1v-1zM22 95v1h1v-1zM22 109v1h1v-1zM23 70v1h1v-1zM23 74v1h1v-1zM23 85v1h1v-1zM23 88v1h1v-1zM23 93v1h1v-1zM23 97v1h1v-1zM23 121v1h1v-1zM24 56v1h1v-1zM24 62v1h1v-1zM24 64v1h1v-1zM24 73v1h1v-1zM24 80v1h1v-1zM24 95v1h1v-1zM24 111v1h1v-1zM24 117v1h1v-1zM28 56v1h1v-1zM28 73v1h1v-1zM28 82v1h1v-1zM28 96v1h1v-1zM28 111v1h1v-1zM29 57v1h1v-1zM29 95v2h1v-2zM30 58v1h1v-1zM30 62v1h1v-1zM30 65v1h1v-1zM30 95v1h1v-1zM31 57v1h1v-1zM31 59v1h1v-1zM31 114v1h1v-1zM31 121v1h1v-1zM32 58v1h1v-1zM32 101v1h1v-1zM33 58v1h1v-1zM36 110v1h1v-1zM37 62v1h1v-1zM37 75v1h1v-1zM37 87v1h1v-1zM37 89v2h1v-2zM37 94v1h1v-1zM37 105v2h1v-2zM37 113v1h1v-1zM37 120v1h1v-1zM38 60v1h1v-1zM38 85v1h1v-1zM38 99v1h1v-1zM38 114v2h1v-2zM38 120v1h1v-1zM38 123v1h1v-1zM39 62v1h1v-1zM39 80v2h1v-2zM39 86v2h1v-2zM39 89v1h1v-1zM39 95v1h1v-1zM39 107v1h1v-1zM39 118v1h1v-1zM40 83v1h1v-1zM40 95v2h1v-2zM40 108v1h1v-1zM41 66v2h1v-2zM41 74v1h1v-1zM41 80v1h1v-1zM41 88v1h1v-1zM41 90v1h1v-1zM41 94v2h1v-2zM41 103v1h1v-1zM41 113v1h1v-1zM41 121v1h1v-1zM42 82v1h1v-1zM42 87v1h1v-1zM42 95v1h1v-1zM42 109v4h1v-4zM42 117v1h1v-1zM45 110v1h1v-1zM46 74v1h1v-1zM46 87v1h1v-1zM46 96v1h1v-1zM46 107v1h1v-1zM46 118v1h1v-1zM47 77v1h1v-1zM47 84v1h1v-1zM47 90v1h1v-1zM47 98v1h1v-1zM47 114v1h1v-1zM47 122v1h1v-1zM48 70v2h1v-2zM48 82v1h1v-1zM48 87v2h1v-2zM48 108v1h1v-1zM48 122v1h1v-1zM49 66v1h1v-1zM49 101v1h1v-1zM49 107v1h1v-1zM49 109v1h1v-1zM49 118v1h1v-1zM50 69v1h1v-1zM50 84v1h1v-1zM50 90v2h1v-2zM50 117v1h1v-1zM50 121v1h1v-1zM51 66v1h1v-1zM51 87v1h1v-1zM51 102v1h1v-1zM51 106v1h1v-1zM51 120v1h1v-1zM52 58v1h1v-1zM52 90v1h1v-1zM52 96v1h1v-1zM52 104v1h1v-1zM52 118v1h1v-1zM53 62v1h1v-1zM53 87v1h1v-1zM53 91v1h1v-1zM53 97v1h1v-1zM53 105v1h1v-1zM54 67v1h1v-1zM55 58v1h1v-1zM55 73v1h1v-1zM56 80v1h1v-1zM57 67v1h1v-1zM57 73v1h1v-1zM57 79v3h1v-3zM58 65v1h1v-1zM58 80v1h1v-1zM58 83v1h1v-1zM58 86v1h1v-1zM58 97v2h1v-2zM58 113v1h1v-1zM59 70v1h1v-1zM59 73v1h1v-1zM59 81v1h1v-1zM59 90v1h1v-1zM59 95v1h1v-1zM59 101v1h1v-1zM59 103v1h1v-1zM59 105v1h1v-1z"/>
<path fill="#f4f17a" d="M1 39v1h1v-1zM1 53v1h1v-1zM1 57v1h1v-1zM1 73v1h1v-1zM2 22v2h1v-2zM2 27v1h1v-1zM2 30v1h1v-1zM2 32v2h1v-2zM2 35v1h1v-1zM2 38v1h1v-1zM2 43v1h1v-1zM2 57v1h1v-1zM3 58v1h1v-1zM3 110v1h1v-1zM4 39v1h1v-1zM6 40v1h1v-1zM7 46v1h1v-1zM8 23v1h1v-1zM9 11v1h1v-1zM9 58v1h1v-1zM9 75v2h1v-2zM9 83v1h1v-1zM9 96v1h1v-1zM9 109v1h1v-1zM10 22v1h1v-1zM10 24v2h1v-2zM10 27v1h1v-1zM10 30v1h1v-1zM10 32v2h1v-2zM13 41v1h1v-1zM13 73v1h1v-1zM14 23v1h1v-1zM14 47v1h1v-1zM16 47v1h1v-1zM16 51v1h1v-1zM16 53v1h1v-1zM16 81v1h1v-1zM17 52v1h1v-1zM17 57v2h1v-2zM17 64v2h1v-2zM17 96v1h1v-1zM18 44v2h1v-2zM20 47v1h1v-1zM20 57v1h1v-1zM20 73v1h1v-1zM20 80v1h1v-1zM20 96v1h1v-1zM20 118v1h1v-1zM21 56v2h1v-2zM21 72v1h1v-1zM21 109v1h1v-1zM22 53v1h1v-1zM22 56v2h1v-2zM22 65v1h1v-1zM22 80v1h1v-1zM22 89v1h1v-1zM22 96v1h1v-1zM22 104v1h1v-1zM23 40v1h1v-1zM23 62v1h1v-1zM23 66v1h1v-1zM23 72v1h1v-1zM23 83v1h1v-1zM23 91v1h1v-1zM23 94v1h1v-1zM23 111v1h1v-1zM23 118v1h1v-1zM24 44v1h1v-1zM24 52v1h1v-1zM24 81v2h1v-2zM25 52v1h1v-1zM29 58v1h1v-1zM30 57v1h1v-1zM30 64v1h1v-1zM31 56v1h1v-1zM31 58v1h1v-1zM31 64v1h1v-1zM31 95v2h1v-2zM33 45v1h1v-1zM33 96v1h1v-1zM35 50v1h1v-1zM35 54v1h1v-1zM36 96v1h1v-1zM37 67v1h1v-1zM37 70v1h1v-1zM37 79v1h1v-1zM37 92v2h1v-2zM37 103v1h1v-1zM37 108v2h1v-2zM37 119v1h1v-1zM38 51v1h1v-1zM38 54v1h1v-1zM38 62v1h1v-1zM38 87v1h1v-1zM38 90v1h1v-1zM38 106v1h1v-1zM38 117v1h1v-1zM38 119v1h1v-1zM38 122v1h1v-1zM39 56v1h1v-1zM39 63v1h1v-1zM39 66v1h1v-1zM39 93v1h1v-1zM39 97v1h1v-1zM39 105v1h1v-1zM40 47v2h1v-2zM40 52v2h1v-2zM40 72v1h1v-1zM40 82v1h1v-1zM40 103v1h1v-1zM40 109v1h1v-1zM41 64v1h1v-1zM41 97v1h1v-1zM41 109v1h1v-1zM42 49v1h1v-1zM42 74v1h1v-1zM42 81v1h1v-1zM46 65v1h1v-1zM46 73v1h1v-1zM46 80v1h1v-1zM46 97v1h1v-1zM46 100v1h1v-1zM46 103v1h1v-1zM47 68v1h1v-1zM48 63v1h1v-1zM48 65v1h1v-1zM48 72v1h1v-1zM49 58v1h1v-1zM49 80v1h1v-1zM49 96v1h1v-1zM49 106v1h1v-1zM49 108v1h1v-1zM49 110v1h1v-1zM49 119v1h1v-1zM50 59v1h1v-1zM50 67v1h1v-1zM50 75v1h1v-1zM50 83v1h1v-1zM50 88v1h1v-1zM50 102v1h1v-1zM51 59v1h1v-1zM51 67v1h1v-1zM51 73v1h1v-1zM51 108v2h1v-2zM51 117v2h1v-2zM52 62v1h1v-1zM52 74v1h1v-1zM52 95v1h1v-1zM52 107v1h1v-1zM53 67v1h1v-1zM53 81v1h1v-1zM54 58v1h1v-1zM54 80v1h1v-1zM54 111v1h1v-1zM54 121v1h1v-1zM57 111v1h1v-1zM58 66v1h1v-1zM58 70v1h1v-1zM58 93v1h1v-1zM59 80v1h1v-1zM59 102v1h1v-1zM59 109v1h1v-1zM59 111v1h1v-1zM59 118v1h1v-1zM60 75v1h1v-1zM60 90v1h1v-1zM60 94v1h1v-1zM60 104v1h1v-1zM60 109v1h1v-1zM61 88v1h1v-1zM61 90v1h1v-1zM61 111v2h1v-2zM62 70v1h1v-1zM62 73v1h1v-1zM62 75v1h1v-1zM62 83v1h1v-1zM62 90v1h1v-1zM62 98v1h1v-1zM62 100v1h1v-1zM62 112v1h1v-1zM62 116v1h1v-1zM63 72v1h1v-1zM63 99v1h1v-1zM63 106v1h1v-1zM63 113v1h1v-1zM64 76v1h1v-1zM64 90v1h1v-1zM64 92v1h1v-1zM64 97v1h1v-1zM64 108v1h1v-1zM64 111v1h1v-1zM65 113v1h1v-1zM65 115v1h1v-1zM66 86v1h1v-1zM66 115v1h1v-1zM67 73v1h1v-1zM67 76v1h1v-1zM67 110v1h1v-1zM67 117v1h1v-1zM68 104v2h1v-2zM68 108v1h1v-1zM69 91v1h1v-1zM69 95v1h1v-1zM69 103v1h1v-1zM69 113v1h1v-1zM69 115v1h1v-1zM70 94v1h1v-1zM70 106v1h1v-1zM70 109v1h1v-1zM70 114v1h1v-1zM70 118v1h1v-1zM71 94v1h1v-1zM71 101v1h1v-1zM72 116v1h1v-1zM74 107v1h1v-1zM74 118v1h1v-1zM75 85v1h1v-1zM75 94v1h1v-1zM75 111v1h1v-1zM76 112v1h1v-1zM76 114v1h1v-1zM76 118v1h1v-1zM77 88v1h1v-1zM77 91v1h1v-1zM77 97v1h1v-1zM77 111v1h1v-1zM78 101v1h1v-1zM78 105v1h1v-1zM79 101v1h1v-1zM79 119v1h1v-1zM81 93v1h1v-1zM81 102v1h1v-1zM81 112v3h1v-3zM82 94v1h1v-1zM82 110v1h1v-1zM89 106v1h1v-1zM91 122v1h1v-1zM93 102v1h1v-1zM95 122v1h1v-1zM97 122v1h1v-1zM98 122v1h1v-1z"/>
<path fill="#f3f06e" d="M2 95v1h1v-1zM5 73v1h1v-1zM8 96v1h1v-1zM8 111v1h1v-1zM9 72v1h1v-1zM9 81v2h1v-2zM9 95v1h1v-1zM12 110v1h1v-1zM18 57v1h1v-1zM20 56v1h1v-1zM20 64v1h1v-1zM20 81v1h1v-1zM20 97v1h1v-1zM20 108v1h1v-1zM20 110v1h1v-1zM21 81v1h1v-1zM21 111v1h1v-1zM22 111v1h1v-1zM23 87v1h1v-1zM23 95v1h1v-1zM24 58v1h1v-1zM28 57v1h1v-1zM28 63v1h1v-1zM36 58v1h1v-1zM37 72v1h1v-1zM37 74v1h1v-1zM37 81v1h1v-1zM37 83v1h1v-1zM37 88v1h1v-1zM37 107v1h1v-1zM38 76v1h1v-1zM38 93v2h1v-2zM38 98v1h1v-1zM38 102v2h1v-2zM38 112v1h1v-1zM38 118v1h1v-1zM39 70v1h1v-1zM39 96v1h1v-1zM39 109v1h1v-1zM40 102v1h1v-1zM41 58v1h1v-1zM41 111v1h1v-1zM42 58v1h1v-1zM42 64v1h1v-1zM46 109v2h1v-2zM47 62v1h1v-1zM47 76v1h1v-1zM47 92v2h1v-2zM47 97v1h1v-1zM47 103v1h1v-1zM47 112v1h1v-1zM47 121v1h1v-1zM48 95v1h1v-1zM48 107v1h1v-1zM49 81v1h1v-1zM49 87v1h1v-1zM50 66v1h1v-1zM50 74v1h1v-1zM50 79v1h1v-1zM50 81v1h1v-1zM50 93v1h1v-1zM50 97v1h1v-1zM50 101v1h1v-1zM50 105v1h1v-1zM50 112v1h1v-1zM50 118v1h1v-1zM50 120v1h1v-1zM50 122v1h1v-1zM51 70v1h1v-1zM51 74v1h1v-1zM51 107v1h1v-1zM51 114v1h1v-1zM52 87v1h1v-1zM52 94v1h1v-1zM53 94v1h1v-1zM53 110v2h1v-2zM53 118v1h1v-1zM54 110v1h1v-1zM57 63v1h1v-1zM58 63v2h1v-2zM58 81v1h1v-1zM58 111v1h1v-1zM59 65v1h1v-1zM59 67v1h1v-1zM59 87v1h1v-1zM59 93v1h1v-1zM59 122v1h1v-1z"/>
<path fill="#f2ee63" d="M1 44v1h1v-1zM4 42v1h1v-1zM4 46v1h1v-1zM7 45v1h1v-1zM8 39v1h1v-1zM8 53v1h1v-1zM8 57v1h1v-1zM8 98v1h1v-1zM9 64v1h1v-1zM9 98v1h1v-1zM9 110v1h1v-1zM10 98v1h1v-1zM11 98v1h1v-1zM12 73v1h1v-1zM12 98v1h1v-1zM13 42v1h1v-1zM13 45v1h1v-1zM13 52v1h1v-1zM13 98v1h1v-1zM14 39v1h1v-1zM14 54v1h1v-1zM14 98v1h1v-1zM14 111v1h1v-1zM15 42v1h1v-1zM15 46v1h1v-1zM15 111v1h1v-1zM16 45v1h1v-1zM16 73v1h1v-1zM16 111v1h1v-1zM17 111v1h1v-1zM18 52v1h1v-1zM18 111v1h1v-1zM19 69v1h1v-1zM19 111v1h1v-1zM20 69v1h1v-1zM21 69v1h1v-1zM21 73v1h1v-1zM21 80v1h1v-1zM21 110v1h1v-1zM22 44v1h1v-1zM22 69v1h1v-1zM22 73v1h1v-1zM23 65v1h1v-1zM23 67v1h1v-1zM23 69v1h1v-1zM23 81v1h1v-1zM23 105v1h1v-1zM23 119v1h1v-1zM24 53v1h1v-1zM25 55v1h1v-1zM25 79v5h1v-5zM36 73v1h1v-1zM37 69v1h1v-1zM37 80v1h1v-1zM37 101v1h1v-1zM37 104v1h1v-1zM38 59v1h1v-1zM38 82v1h1v-1zM38 86v1h1v-1zM38 88v1h1v-1zM38 92v1h1v-1zM38 95v1h1v-1zM38 100v1h1v-1zM38 104v2h1v-2zM39 50v1h1v-1zM39 57v1h1v-1zM39 64v1h1v-1zM39 104v1h1v-1zM40 104v1h1v-1zM41 57v1h1v-1zM41 81v1h1v-1zM41 104v1h1v-1zM41 110v1h1v-1zM42 104v1h1v-1zM46 108v1h1v-1zM47 70v2h1v-2zM47 82v1h1v-1zM47 86v1h1v-1zM47 88v1h1v-1zM47 101v2h1v-2zM47 105v2h1v-2zM47 109v1h1v-1zM47 117v1h1v-1zM47 120v1h1v-1zM48 104v1h1v-1zM48 109v1h1v-1zM49 82v1h1v-1zM49 95v1h1v-1zM49 111v1h1v-1zM50 89v1h1v-1zM50 104v1h1v-1zM51 65v1h1v-1zM51 82v1h1v-1zM51 90v1h1v-1zM51 95v3h1v-3zM52 63v1h1v-1zM52 111v1h1v-1zM53 80v1h1v-1zM54 73v1h1v-1zM55 111v1h1v-1zM57 94v7h1v-7zM58 82v1h1v-1zM59 64v1h1v-1zM59 82v2h1v-2zM59 94v1h1v-1zM60 79v1h1v-1zM60 93v1h1v-1zM60 106v1h1v-1zM61 114v1h1v-1zM62 84v1h1v-1zM62 101v1h1v-1zM62 111v1h1v-1zM64 70v1h1v-1zM64 105v1h1v-1zM64 112v1h1v-1zM64 114v1h1v-1zM64 118v1h1v-1zM65 105v1h1v-1zM67 100v1h1v-1zM68 106v1h1v-1zM68 116v1h1v-1zM69 82v1h1v-1zM69 87v1h1v-1zM69 97v1h1v-1zM69 104v2h1v-2zM70 116v1h1v-1zM72 85v1h1v-1zM72 115v1h1v-1zM73 83v1h1v-1zM73 95v1h1v-1zM73 114v1h1v-1zM74 108v1h1v-1zM74 112v1h1v-1zM74 116v1h1v-1zM75 86v1h1v-1zM75 97v1h1v-1zM75 106v1h1v-1zM77 114v1h1v-1zM78 88v1h1v-1zM78 93v1h1v-1zM79 115v1h1v-1zM80 117v1h1v-1zM80 123v1h1v-1zM81 91v1h1v-1zM81 104v1h1v-1zM81 106v1h1v-1zM81 109v1h1v-1zM82 116v1h1v-1zM83 90v1h1v-1zM83 101v1h1v-1zM83 103v1h1v-1zM83 108v2h1v-2zM97 110v1h1v-1z"/>
<path fill="#f1ed58" d="M21 95v1h1v-1zM22 82v1h1v-1zM22 110v1h1v-1zM23 57v1h1v-1zM23 64v1h1v-1zM23 89v1h1v-1zM28 64v1h1v-1zM30 111v1h1v-1zM37 95v3h1v-3zM37 118v1h1v-1zM38 63v1h1v-1zM38 66v1h1v-1zM38 72v1h1v-1zM38 74v1h1v-1zM38 79v2h1v-2zM38 89v1h1v-1zM38 101v1h1v-1zM38 108v1h1v-1zM38 110v1h1v-1zM39 67v1h1v-1zM39 111v1h1v-1zM40 57v1h1v-1zM47 64v1h1v-1zM47 72v1h1v-1zM47 95v1h1v-1zM47 108v1h1v-1zM48 64v1h1v-1zM48 73v1h1v-1zM48 81v1h1v-1zM48 96v1h1v-1zM50 65v1h1v-1zM50 70v1h1v-1zM50 108v1h1v-1zM51 83v1h1v-1zM52 110v1h1v-1zM53 73v1h1v-1zM58 73v1h1v-1zM58 94v1h1v-1zM58 104v1h1v-1zM59 97v1h1v-1zM59 104v1h1v-1z"/>
<path fill="#f0ec4d" d="M0 63v1h1v-1zM1 54v1h1v-1zM1 63v1h1v-1zM2 42v1h1v-1zM2 47v1h1v-1zM2 63v1h1v-1zM2 69v3h1v-3zM3 105v1h1v-1zM4 47v1h1v-1zM4 105v1h1v-1zM5 39v1h1v-1zM5 46v1h1v-1zM5 105v1h1v-1zM6 47v1h1v-1zM6 105v1h1v-1zM7 29v1h1v-1zM7 38v1h1v-1zM7 43v1h1v-1zM8 46v1h1v-1zM13 44v1h1v-1zM14 52v2h1v-2zM15 40v1h1v-1zM15 51v1h1v-1zM15 69v6h1v-6zM15 101v2h1v-2zM15 104v2h1v-2zM16 54v1h1v-1zM17 39v1h1v-1zM19 56v4h1v-4zM20 114v1h1v-1zM21 114v1h1v-1zM22 58v1h1v-1zM22 114v1h1v-1zM23 56v1h1v-1zM23 80v1h1v-1zM23 114v1h1v-1zM25 43v1h1v-1zM28 89v1h1v-1zM29 89v1h1v-1zM30 89v1h1v-1zM31 42v1h1v-1zM31 89v1h1v-1zM32 89v1h1v-1zM33 54v1h1v-1zM34 45v1h1v-1zM36 42v1h1v-1zM36 51v1h1v-1zM37 58v1h1v-1zM37 64v2h1v-2zM37 110v2h1v-2zM37 117v1h1v-1zM38 57v2h1v-2zM38 64v1h1v-1zM38 67v1h1v-1zM38 73v1h1v-1zM38 81v1h1v-1zM38 96v2h1v-2zM38 109v1h1v-1zM39 42v1h1v-1zM39 52v1h1v-1zM39 58v1h1v-1zM40 46v1h1v-1zM40 58v1h1v-1zM41 42v1h1v-1zM41 96v1h1v-1zM42 96v1h1v-1zM43 96v1h1v-1zM47 57v1h1v-1zM47 63v1h1v-1zM47 65v3h1v-3zM47 81v1h1v-1zM47 83v1h1v-1zM47 96v1h1v-1zM47 100v1h1v-1zM47 104v1h1v-1zM47 107v1h1v-1zM47 111v1h1v-1zM47 118v1h1v-1zM48 97v1h1v-1zM49 60v3h1v-3zM50 60v3h1v-3zM50 80v1h1v-1zM50 82v1h1v-1zM50 95v2h1v-2zM50 116v1h1v-1zM51 58v1h1v-1zM51 60v3h1v-3zM51 110v2h1v-2zM51 116v1h1v-1zM52 116v1h1v-1zM53 58v4h1v-4zM59 110v1h1v-1zM60 85v1h1v-1zM60 88v1h1v-1zM60 115v1h1v-1zM60 117v1h1v-1zM62 76v1h1v-1zM62 80v1h1v-1zM62 91v1h1v-1zM62 110v1h1v-1zM63 86v1h1v-1zM63 107v1h1v-1zM63 115v1h1v-1zM64 80v1h1v-1zM64 87v1h1v-1zM65 116v1h1v-1zM66 83v1h1v-1zM66 98v1h1v-1zM66 118v2h1v-2zM66 123v1h1v-1zM67 72v1h1v-1zM67 84v2h1v-2zM67 92v1h1v-1zM67 103v1h1v-1zM67 123v1h1v-1zM69 78v1h1v-1zM69 117v1h1v-1zM70 102v1h1v-1zM70 111v1h1v-1zM70 117v1h1v-1zM71 83v1h1v-1zM71 107v1h1v-1zM71 112v1h1v-1zM71 119v1h1v-1zM72 88v1h1v-1zM72 104v1h1v-1zM72 108v1h1v-1zM73 86v1h1v-1zM73 94v1h1v-1zM73 107v2h1v-2zM73 112v2h1v-2zM74 92v1h1v-1zM75 98v1h1v-1zM75 105v1h1v-1zM75 110v1h1v-1zM76 117v1h1v-1zM77 90v1h1v-1zM78 91v1h1v-1zM78 95v1h1v-1zM78 109v1h1v-1zM78 118v1h1v-1zM79 91v1h1v-1zM79 111v1h1v-1zM79 113v1h1v-1zM79 116v1h1v-1zM82 108v1h1v-1zM82 113v1h1v-1zM83 91v1h1v-1zM83 99v1h1v-1zM83 102v1h1v-1zM83 112v1h1v-1zM83 115v2h1v-2zM87 91v1h1v-1zM87 93v1h1v-1zM87 95v1h1v-1zM87 97v1h1v-1zM87 101v1h1v-1zM89 100v1h1v-1zM89 110v1h1v-1zM90 110v1h1v-1zM91 102v1h1v-1zM92 118v1h1v-1zM93 105v14h1v-14zM93 121v1h1v-1zM94 118v1h1v-1zM98 118v1h1v-1zM99 118v1h1v-1zM102 113v1h1v-1zM102 122v1h1v-1zM111 118v1h1v-1zM113 122v1h1v-1z"/>
<path fill="#f2ce43" d="M1 56v1h1v-1zM1 111v1h1v-1zM3 29v1h1v-1zM4 71v1h1v-1zM5 79v1h1v-1zM5 110v1h1v-1zM7 63v1h1v-1zM7 97v1h1v-1zM7 108v1h1v-1zM8 82v1h1v-1zM10 26v1h1v-1zM10 106v1h1v-1zM11 23v1h1v-1zM11 101v1h1v-1zM11 114v1h1v-1zM11 119v1h1v-1zM12 74v1h1v-1zM13 109v4h1v-4zM15 107v1h1v-1zM16 102v1h1v-1zM16 104v4h1v-4zM17 95v1h1v-1zM17 117v1h1v-1zM22 94v1h1v-1zM22 98v5h1v-5zM23 59v1h1v-1zM23 96v1h1v-1zM23 109v2h1v-2zM24 96v1h1v-1zM25 104v1h1v-1zM26 60v1h1v-1zM26 80v1h1v-1zM27 80v1h1v-1zM27 96v1h1v-1zM28 80v1h1v-1zM29 73v1h1v-1zM29 80v1h1v-1zM32 57v1h1v-1zM32 96v1h1v-1zM32 116v1h1v-1zM32 118v2h1v-2zM33 116v1h1v-1zM33 118v6h1v-6zM34 106v1h1v-1zM35 65v1h1v-1zM35 104v1h1v-1zM36 87v1h1v-1zM37 41v1h1v-1zM37 63v1h1v-1zM37 116v1h1v-1zM38 71v1h1v-1zM38 83v1h1v-1zM38 116v1h1v-1zM39 116v1h1v-1zM40 50v2h1v-2zM40 116v1h1v-1zM41 47v1h1v-1zM41 53v3h1v-3zM41 70v1h1v-1zM41 116v1h1v-1zM42 92v2h1v-2zM42 97v1h1v-1zM42 116v1h1v-1zM43 74v1h1v-1zM45 79v1h1v-1zM46 77v1h1v-1zM46 98v1h1v-1zM47 74v1h1v-1zM47 80v1h1v-1zM47 87v1h1v-1zM47 91v1h1v-1zM47 110v1h1v-1zM47 119v1h1v-1zM48 67v1h1v-1zM48 80v1h1v-1zM49 59v1h1v-1zM49 75v1h1v-1zM49 97v1h1v-1zM50 57v1h1v-1zM50 63v1h1v-1zM50 86v1h1v-1zM50 110v2h1v-2zM51 57v1h1v-1zM51 63v1h1v-1zM51 86v1h1v-1zM52 86v1h1v-1zM53 86v1h1v-1zM53 96v1h1v-1zM53 103v1h1v-1zM54 59v1h1v-1zM54 75v1h1v-1zM54 83v1h1v-1zM55 69v1h1v-1zM56 71v1h1v-1zM58 75v1h1v-1zM58 95v1h1v-1zM58 109v1h1v-1zM59 108v1h1v-1zM59 120v1h1v-1zM90 104v1h1v-1zM90 121v1h1v-1zM91 118v1h1v-1zM93 103v1h1v-1zM95 118v1h1v-1zM97 118v1h1v-1zM104 106v1h1v-1zM104 110v1h1v-1zM104 112v1h1v-1zM104 114v4h1v-4zM104 121v1h1v-1z"/>
<path fill="#f3c03f" d="M23 73v1h1v-1zM50 58v1h1v-1z"/>
<path fill="#f4b13a" d="M1 38v1h1v-1zM1 51v1h1v-1zM1 122v1h1v-1zM2 48v1h1v-1zM2 124v1h1v-1zM3 79v1h1v-1zM4 41v1h1v-1zM4 81v1h1v-1zM4 84v1h1v-1zM5 62v1h1v-1zM6 41v1h1v-1zM6 59v1h1v-1zM6 98v1h1v-1zM6 100v1h1v-1zM6 112v4h1v-4zM6 117v1h1v-1zM7 89v1h1v-1zM8 105v1h1v-1zM9 16v1h1v-1zM9 69v1h1v-1zM10 68v1h1v-1zM10 73v1h1v-1zM10 88v1h1v-1zM10 105v1h1v-1zM10 107v1h1v-1zM13 102v1h1v-1zM14 90v1h1v-1zM15 23v1h1v-1zM15 48v1h1v-1zM15 103v1h1v-1zM16 48v1h1v-1zM16 103v1h1v-1zM17 51v1h1v-1zM17 103v1h1v-1zM18 41v1h1v-1zM18 103v1h1v-1zM19 103v1h1v-1zM20 52v1h1v-1zM20 62v1h1v-1zM20 84v1h1v-1zM20 94v1h1v-1zM20 111v1h1v-1zM21 84v1h1v-1zM22 42v1h1v-1zM22 84v1h1v-1zM22 97v1h1v-1zM23 51v1h1v-1zM23 58v1h1v-1zM23 63v1h1v-1zM23 82v1h1v-1zM23 84v1h1v-1zM24 42v1h1v-1zM24 84v1h1v-1zM24 86v3h1v-3zM24 101v1h1v-1zM25 42v1h1v-1zM25 51v1h1v-1zM25 69v1h1v-1zM26 42v1h1v-1zM26 44v1h1v-1zM26 66v1h1v-1zM26 77v1h1v-1zM26 93v1h1v-1zM27 42v1h1v-1zM27 75v1h1v-1zM28 70v1h1v-1zM28 100v1h1v-1zM29 64v1h1v-1zM30 44v1h1v-1zM31 63v1h1v-1zM31 92v1h1v-1zM31 112v1h1v-1zM32 42v1h1v-1zM32 64v1h1v-1zM33 42v2h1v-2zM33 77v1h1v-1zM33 104v1h1v-1zM33 114v1h1v-1zM34 116v1h1v-1zM35 52v1h1v-1zM35 72v1h1v-1zM35 99v1h1v-1zM35 117v1h1v-1zM37 73v1h1v-1zM38 111v1h1v-1zM40 98v1h1v-1zM40 123v1h1v-1zM42 72v1h1v-1zM43 62v1h1v-1zM45 112v1h1v-1zM47 58v1h1v-1zM47 75v1h1v-1zM47 78v1h1v-1zM47 124v1h1v-1zM48 57v1h1v-1zM48 74v1h1v-1zM49 64v2h1v-2zM50 115v1h1v-1zM51 121v1h1v-1zM52 80v1h1v-1zM52 122v1h1v-1zM53 57v1h1v-1zM53 95v1h1v-1zM54 74v1h1v-1zM54 92v1h1v-1zM55 96v1h1v-1zM57 59v1h1v-1zM57 77v1h1v-1zM57 85v1h1v-1zM58 68v1h1v-1zM58 91v1h1v-1zM58 99v1h1v-1zM58 110v1h1v-1zM59 91v1h1v-1zM60 100v1h1v-1zM60 118v1h1v-1zM61 72v1h1v-1zM61 102v1h1v-1zM63 75v1h1v-1zM63 78v1h1v-1zM63 83v1h1v-1zM63 88v1h1v-1zM63 90v2h1v-2zM63 93v1h1v-1zM63 101v2h1v-2zM63 109v1h1v-1zM64 103v1h1v-1zM64 115v1h1v-1zM64 117v1h1v-1zM64 119v1h1v-1zM64 122v1h1v-1zM65 109v1h1v-1zM66 85v1h1v-1zM66 94v1h1v-1zM66 109v1h1v-1zM67 75v1h1v-1zM67 77v1h1v-1zM67 79v1h1v-1zM67 83v1h1v-1zM67 88v1h1v-1zM67 95v1h1v-1zM69 81v1h1v-1zM69 114v1h1v-1zM69 119v1h1v-1zM70 84v1h1v-1zM71 81v1h1v-1zM71 87v1h1v-1zM71 95v1h1v-1zM71 102v1h1v-1zM71 106v1h1v-1zM71 108v1h1v-1zM71 123v1h1v-1zM72 118v1h1v-1zM73 82v1h1v-1zM73 124v1h1v-1zM74 84v1h1v-1zM74 98v1h1v-1zM74 105v2h1v-2zM74 114v1h1v-1zM74 119v1h1v-1zM77 98v1h1v-1zM77 115v1h1v-1zM77 123v1h1v-1zM79 102v1h1v-1zM79 114v1h1v-1zM79 117v1h1v-1zM80 114v1h1v-1zM81 121v1h1v-1zM82 95v1h1v-1zM82 97v3h1v-3zM82 102v1h1v-1zM82 111v1h1v-1zM82 117v1h1v-1zM83 89v1h1v-1zM83 113v1h1v-1zM83 123v1h1v-1zM90 102v1h1v-1zM91 105v1h1v-1zM91 109v1h1v-1zM97 104v1h1v-1zM97 121v1h1v-1zM102 105v1h1v-1zM102 121v1h1v-1zM114 118v1h1v-1zM115 118v1h1v-1zM116 118v1h1v-1zM117 118v1h1v-1z"/>
<path fill="#f5a235" d="M47 73v1h1v-1z"/>
<path fill="#f69430" d="M0 117v1h1v-1zM1 40v1h1v-1zM1 108v1h1v-1zM2 26v1h1v-1zM2 54v1h1v-1zM2 74v8h1v-8zM2 105v5h1v-5zM2 112v7h1v-7zM4 58v1h1v-1zM4 69v1h1v-1zM4 72v1h1v-1zM5 23v1h1v-1zM5 43v1h1v-1zM5 52v1h1v-1zM6 42v1h1v-1zM6 124v1h1v-1zM7 39v3h1v-3zM7 74v1h1v-1zM8 40v2h1v-2zM8 44v1h1v-1zM8 51v1h1v-1zM8 54v1h1v-1zM8 101v1h1v-1zM8 120v1h1v-1zM9 17v1h1v-1zM10 62v1h1v-1zM10 71v1h1v-1zM11 14v1h1v-1zM12 67v1h1v-1zM12 76v1h1v-1zM13 38v1h1v-1zM13 40v1h1v-1zM13 47v1h1v-1zM13 51v1h1v-1zM13 83v1h1v-1zM14 51v1h1v-1zM15 38v1h1v-1zM15 41v1h1v-1zM15 47v1h1v-1zM16 39v1h1v-1zM16 59v1h1v-1zM18 40v1h1v-1zM18 48v4h1v-4zM19 48v5h1v-5zM20 48v4h1v-4zM20 58v1h1v-1zM20 65v1h1v-1zM20 89v1h1v-1zM21 48v4h1v-4zM21 75v1h1v-1zM21 87v1h1v-1zM22 51v1h1v-1zM24 46v1h1v-1zM24 54v1h1v-1zM24 118v1h1v-1zM25 117v1h1v-1zM26 43v1h1v-1zM26 45v1h1v-1zM26 70v1h1v-1zM27 64v1h1v-1zM27 81v1h1v-1zM27 123v1h1v-1zM28 88v1h1v-1zM28 117v1h1v-1zM29 66v1h1v-1zM29 117v1h1v-1zM30 42v1h1v-1zM30 45v1h1v-1zM30 117v1h1v-1zM31 45v1h1v-1zM31 47v1h1v-1zM31 66v1h1v-1zM31 117v1h1v-1zM32 44v1h1v-1zM32 55v1h1v-1zM32 71v1h1v-1zM32 117v1h1v-1zM33 71v1h1v-1zM33 117v1h1v-1zM34 71v1h1v-1zM34 117v1h1v-1zM34 121v1h1v-1zM35 42v1h1v-1zM35 51v1h1v-1zM35 56v1h1v-1zM35 71v1h1v-1zM36 54v1h1v-1zM36 61v1h1v-1zM36 71v1h1v-1zM36 89v5h1v-5zM38 42v1h1v-1zM38 52v1h1v-1zM38 75v1h1v-1zM38 121v1h1v-1zM39 110v1h1v-1zM40 49v1h1v-1zM40 73v1h1v-1zM40 106v2h1v-2zM41 48v5h1v-5zM41 73v1h1v-1zM42 73v1h1v-1zM42 86v1h1v-1zM42 103v1h1v-1zM42 108v1h1v-1zM43 49v1h1v-1zM43 68v1h1v-1zM43 73v1h1v-1zM44 49v1h1v-1zM44 78v2h1v-2zM44 94v1h1v-1zM45 94v1h1v-1zM45 108v1h1v-1zM45 116v1h1v-1zM46 81v5h1v-5zM46 93v2h1v-2zM46 111v1h1v-1zM47 94v1h1v-1zM48 58v1h1v-1zM48 69v1h1v-1zM48 94v1h1v-1zM48 110v5h1v-5zM49 94v1h1v-1zM49 120v1h1v-1zM50 71v2h1v-2zM50 94v1h1v-1zM50 98v1h1v-1zM50 107v1h1v-1zM50 113v1h1v-1zM51 71v2h1v-2zM51 94v1h1v-1zM53 63v1h1v-1zM53 89v1h1v-1zM55 87v1h1v-1zM55 110v1h1v-1zM56 63v1h1v-1zM56 94v5h1v-5zM56 103v1h1v-1zM58 79v1h1v-1zM59 66v1h1v-1zM60 72v1h1v-1zM60 87v1h1v-1zM60 112v1h1v-1zM60 119v1h1v-1zM60 123v1h1v-1zM61 73v1h1v-1zM61 75v1h1v-1zM61 107v1h1v-1zM61 117v1h1v-1zM61 121v1h1v-1zM62 72v1h1v-1zM62 77v1h1v-1zM62 79v1h1v-1zM62 85v1h1v-1zM62 94v1h1v-1zM62 99v1h1v-1zM62 119v1h1v-1zM63 70v2h1v-2zM63 73v1h1v-1zM63 81v1h1v-1zM63 84v1h1v-1zM63 87v1h1v-1zM63 123v1h1v-1zM64 78v1h1v-1zM64 85v1h1v-1zM64 99v1h1v-1zM64 101v2h1v-2zM66 90v1h1v-1zM66 114v1h1v-1zM67 74v1h1v-1zM67 80v1h1v-1zM67 86v1h1v-1zM67 90v1h1v-1zM67 93v1h1v-1zM67 101v1h1v-1zM69 86v1h1v-1zM69 88v1h1v-1zM69 93v2h1v-2zM69 106v2h1v-2zM70 103v1h1v-1zM71 86v1h1v-1zM71 114v1h1v-1zM72 99v1h1v-1zM73 97v1h1v-1zM73 102v1h1v-1zM73 110v1h1v-1zM73 119v1h1v-1zM73 123v1h1v-1zM74 86v3h1v-3zM74 103v1h1v-1zM74 117v1h1v-1zM75 84v1h1v-1zM75 91v1h1v-1zM75 118v1h1v-1zM75 121v1h1v-1zM75 123v1h1v-1zM77 84v2h1v-2zM77 95v1h1v-1zM77 101v1h1v-1zM77 104v1h1v-1zM77 112v1h1v-1zM77 121v1h1v-1zM78 85v1h1v-1zM78 92v1h1v-1zM79 88v1h1v-1zM79 93v1h1v-1zM79 103v1h1v-1zM79 118v1h1v-1zM79 121v1h1v-1zM79 123v1h1v-1zM81 90v1h1v-1zM81 92v1h1v-1zM81 94v1h1v-1zM81 99v1h1v-1zM81 115v1h1v-1zM82 93v1h1v-1zM82 109v1h1v-1zM82 118v1h1v-1zM82 121v1h1v-1zM83 107v1h1v-1zM83 119v1h1v-1zM87 102v1h1v-1zM87 109v1h1v-1zM87 122v1h1v-1zM88 103v1h1v-1zM88 106v1h1v-1zM89 102v1h1v-1zM90 105v1h1v-1zM91 101v1h1v-1zM91 104v1h1v-1zM91 113v5h1v-5zM91 121v1h1v-1zM93 104v1h1v-1zM95 104v1h1v-1zM95 114v4h1v-4zM95 121v1h1v-1zM97 114v4h1v-4zM99 102v2h1v-2zM101 103v1h1v-1zM103 113v1h1v-1zM103 121v1h1v-1zM104 109v1h1v-1zM104 111v1h1v-1zM105 118v1h1v-1zM105 120v2h1v-2zM106 118v1h1v-1zM106 121v2h1v-2zM107 118v1h1v-1zM108 118v1h1v-1zM109 121v1h1v-1zM110 118v1h1v-1zM112 113v1h1v-1zM112 118v1h1v-1zM118 121v1h1v-1z"/>
<path fill="#f87626" d="M0 58v1h1v-1zM1 76v1h1v-1zM1 95v1h1v-1zM2 40v2h1v-2zM3 9v1h1v-1zM3 78v1h1v-1zM3 119v1h1v-1zM4 38v1h1v-1zM4 40v1h1v-1zM4 78v1h1v-1zM4 120v1h1v-1zM5 40v2h1v-2zM5 78v1h1v-1zM5 80v6h1v-6zM6 70v1h1v-1zM6 78v1h1v-1zM6 96v1h1v-1zM6 107v1h1v-1zM6 118v1h1v-1zM6 120v1h1v-1zM7 48v1h1v-1zM7 78v1h1v-1zM8 26v1h1v-1zM8 38v1h1v-1zM8 78v1h1v-1zM8 88v1h1v-1zM8 114v1h1v-1zM9 13v1h1v-1zM9 19v3h1v-3zM9 28v1h1v-1zM9 67v1h1v-1zM9 78v1h1v-1zM9 111v1h1v-1zM10 78v1h1v-1zM10 90v1h1v-1zM11 85v1h1v-1zM12 92v1h1v-1zM12 121v2h1v-2zM13 56v1h1v-1zM13 119v1h1v-1zM13 121v1h1v-1zM14 41v1h1v-1zM14 48v1h1v-1zM14 119v1h1v-1zM14 121v1h1v-1zM15 119v1h1v-1zM15 121v1h1v-1zM16 38v1h1v-1zM16 40v2h1v-2zM16 56v1h1v-1zM16 119v1h1v-1zM16 121v1h1v-1zM17 40v2h1v-2zM17 48v1h1v-1zM17 75v1h1v-1zM17 87v1h1v-1zM17 119v1h1v-1zM17 121v1h1v-1zM18 61v1h1v-1zM18 119v1h1v-1zM18 121v1h1v-1zM19 82v1h1v-1zM20 82v1h1v-1zM21 82v1h1v-1zM21 85v1h1v-1zM21 96v1h1v-1zM22 106v1h1v-1zM23 41v1h1v-1zM24 51v1h1v-1zM26 84v7h1v-7zM26 97v1h1v-1zM26 122v1h1v-1zM27 69v1h1v-1zM29 83v1h1v-1zM30 43v1h1v-1zM31 41v1h1v-1zM31 84v1h1v-1zM31 106v1h1v-1zM32 43v1h1v-1zM33 44v1h1v-1zM34 47v3h1v-3zM34 52v1h1v-1zM35 55v1h1v-1zM35 59v1h1v-1zM36 55v1h1v-1zM37 61v1h1v-1zM39 41v1h1v-1zM40 43v1h1v-1zM40 60v8h1v-8zM41 122v1h1v-1zM43 47v1h1v-1zM44 112v1h1v-1zM45 54v2h1v-2zM45 81v1h1v-1zM46 67v1h1v-1zM47 89v1h1v-1zM50 64v1h1v-1zM50 87v1h1v-1zM51 64v1h1v-1zM51 81v1h1v-1zM51 88v1h1v-1zM52 81v1h1v-1zM52 124v1h1v-1zM53 79v1h1v-1zM53 108v1h1v-1zM55 59v1h1v-1zM55 63v1h1v-1zM55 66v1h1v-1zM55 75v7h1v-7zM56 101v1h1v-1zM56 112v1h1v-1zM57 120v1h1v-1zM58 60v1h1v-1zM58 121v1h1v-1zM59 63v1h1v-1zM59 99v1h1v-1zM60 63v1h1v-1zM60 78v1h1v-1zM60 102v1h1v-1zM61 63v1h1v-1zM61 84v2h1v-2zM61 91v1h1v-1zM61 94v1h1v-1zM61 116v1h1v-1zM61 119v1h1v-1zM62 109v1h1v-1zM62 121v1h1v-1zM63 76v1h1v-1zM63 95v1h1v-1zM63 103v1h1v-1zM63 112v1h1v-1zM63 119v1h1v-1zM64 91v1h1v-1zM64 94v1h1v-1zM67 81v1h1v-1zM67 91v1h1v-1zM67 99v1h1v-1zM67 116v1h1v-1zM67 121v1h1v-1zM69 123v1h1v-1zM71 80v1h1v-1zM71 85v1h1v-1zM71 88v1h1v-1zM71 92v1h1v-1zM71 98v1h1v-1zM71 103v1h1v-1zM71 111v1h1v-1zM71 115v1h1v-1zM71 121v1h1v-1zM73 85v1h1v-1zM73 91v1h1v-1zM74 83v1h1v-1zM74 85v1h1v-1zM74 89v3h1v-3zM74 101v2h1v-2zM74 109v1h1v-1zM74 111v1h1v-1zM75 113v1h1v-1zM77 86v1h1v-1zM77 99v1h1v-1zM77 105v1h1v-1zM77 119v1h1v-1zM78 110v1h1v-1zM78 115v1h1v-1zM78 119v1h1v-1zM79 85v1h1v-1zM79 89v1h1v-1zM79 97v1h1v-1zM79 99v1h1v-1zM79 105v5h1v-5zM79 112v1h1v-1zM81 119v1h1v-1zM82 90v1h1v-1zM82 101v1h1v-1zM82 103v2h1v-2zM82 112v1h1v-1zM83 94v1h1v-1zM83 121v1h1v-1zM88 110v1h1v-1zM89 104v1h1v-1zM89 109v1h1v-1zM90 106v1h1v-1zM91 110v1h1v-1zM102 104v1h1v-1zM102 120v1h1v-1zM103 118v1h1v-1zM104 118v1h1v-1zM107 121v1h1v-1zM108 120v2h1v-2zM109 120v1h1v-1zM110 121v1h1v-1z"/>
<path fill="#f9581d" d="M0 29v1h1v-1zM0 36v1h1v-1zM1 17v1h1v-1zM1 28v1h1v-1zM1 34v1h1v-1zM1 41v1h1v-1zM2 10v1h1v-1zM2 15v1h1v-1zM2 34v1h1v-1zM3 12v1h1v-1zM3 18v1h1v-1zM3 36v1h1v-1zM3 44v1h1v-1zM3 47v1h1v-1zM3 52v1h1v-1zM3 54v1h1v-1zM6 36v1h1v-1zM6 38v1h1v-1zM7 12v1h1v-1zM7 17v2h1v-2zM7 51v1h1v-1zM8 15v1h1v-1zM8 34v1h1v-1zM8 48v1h1v-1zM8 50v1h1v-1zM9 38v1h1v-1zM9 44v1h1v-1zM9 48v1h1v-1zM9 50v1h1v-1zM10 19v3h1v-3zM10 28v1h1v-1zM10 34v1h1v-1zM10 36v1h1v-1zM10 38v1h1v-1zM10 52v1h1v-1zM11 22v1h1v-1zM11 24v2h1v-2zM11 27v1h1v-1zM11 30v1h1v-1zM11 32v2h1v-2zM11 38v1h1v-1zM11 47v1h1v-1zM11 50v1h1v-1zM12 44v1h1v-1zM12 52v1h1v-1zM13 48v1h1v-1zM15 49v1h1v-1zM16 22v1h1v-1zM16 24v2h1v-2zM16 27v1h1v-1zM16 30v1h1v-1zM16 32v2h1v-2zM16 35v1h1v-1zM17 34v1h1v-1zM19 40v6h1v-6zM20 40v6h1v-6zM21 40v6h1v-6zM22 49v1h1v-1zM24 48v1h1v-1zM25 44v1h1v-1zM26 40v1h1v-1zM26 49v1h1v-1zM27 43v1h1v-1zM27 45v1h1v-1zM28 40v4h1v-4zM30 53v1h1v-1zM30 55v1h1v-1zM31 44v1h1v-1zM31 54v2h1v-2zM34 50v2h1v-2zM34 54v2h1v-2zM35 45v1h1v-1zM36 46v1h1v-1zM37 43v3h1v-3zM37 48v1h1v-1zM40 41v1h1v-1zM40 44v1h1v-1zM41 43v1h1v-1zM42 47v2h1v-2zM42 50v2h1v-2zM42 59v1h1v-1zM43 48v1h1v-1zM43 50v2h1v-2zM43 53v4h1v-4zM44 47v2h1v-2zM44 50v2h1v-2zM44 53v4h1v-4zM45 49v1h1v-1zM45 53v1h1v-1zM45 56v1h1v-1zM46 59v1h1v-1zM48 56v1h1v-1zM49 52v1h1v-1zM49 67v1h1v-1zM49 73v1h1v-1zM50 56v1h1v-1zM50 73v1h1v-1zM51 56v1h1v-1zM53 56v1h1v-1zM60 76v1h1v-1zM60 84v1h1v-1zM60 91v1h1v-1zM60 108v1h1v-1zM60 114v1h1v-1zM61 76v1h1v-1zM61 78v1h1v-1zM61 110v1h1v-1zM62 78v1h1v-1zM62 86v1h1v-1zM62 89v1h1v-1zM62 92v1h1v-1zM62 118v1h1v-1zM62 124v1h1v-1zM63 74v1h1v-1zM63 77v1h1v-1zM63 85v1h1v-1zM63 89v1h1v-1zM63 92v1h1v-1zM63 111v1h1v-1zM63 114v1h1v-1zM63 118v1h1v-1zM63 120v2h1v-2zM64 86v1h1v-1zM64 121v1h1v-1zM64 123v1h1v-1zM65 79v1h1v-1zM65 85v1h1v-1zM65 100v1h1v-1zM65 102v1h1v-1zM65 120v1h1v-1zM65 124v1h1v-1zM66 79v1h1v-1zM66 82v1h1v-1zM66 84v1h1v-1zM66 97v1h1v-1zM66 102v1h1v-1zM66 110v1h1v-1zM66 112v1h1v-1zM66 121v1h1v-1zM67 94v1h1v-1zM67 105v1h1v-1zM67 107v2h1v-2zM67 112v1h1v-1zM68 93v1h1v-1zM68 111v1h1v-1zM68 118v1h1v-1zM69 84v1h1v-1zM69 102v1h1v-1zM70 87v2h1v-2zM70 90v1h1v-1zM70 97v1h1v-1zM70 101v1h1v-1zM70 104v1h1v-1zM70 107v1h1v-1zM70 121v1h1v-1zM71 84v1h1v-1zM71 90v1h1v-1zM71 93v1h1v-1zM71 100v1h1v-1zM71 116v3h1v-3zM71 122v1h1v-1zM72 82v1h1v-1zM72 86v2h1v-2zM72 98v1h1v-1zM72 102v1h1v-1zM72 113v1h1v-1zM72 120v1h1v-1zM73 75v2h1v-2zM73 84v1h1v-1zM73 88v1h1v-1zM73 93v1h1v-1zM73 115v1h1v-1zM73 121v1h1v-1zM74 94v2h1v-2zM74 99v1h1v-1zM74 115v1h1v-1zM74 121v1h1v-1zM74 123v1h1v-1zM75 92v1h1v-1zM75 95v1h1v-1zM75 108v1h1v-1zM75 114v1h1v-1zM75 116v2h1v-2zM75 122v1h1v-1zM76 85v2h1v-2zM76 93v1h1v-1zM76 95v1h1v-1zM76 97v1h1v-1zM76 100v1h1v-1zM76 108v1h1v-1zM76 116v1h1v-1zM76 124v1h1v-1zM77 82v2h1v-2zM77 93v2h1v-2zM77 103v1h1v-1zM77 107v1h1v-1zM77 113v1h1v-1zM77 116v3h1v-3zM78 89v1h1v-1zM78 94v1h1v-1zM78 102v2h1v-2zM78 107v1h1v-1zM78 111v1h1v-1zM78 120v2h1v-2zM79 84v1h1v-1zM79 87v1h1v-1zM79 90v1h1v-1zM79 94v2h1v-2zM79 98v1h1v-1zM79 104v1h1v-1zM80 84v5h1v-5zM80 93v2h1v-2zM80 109v1h1v-1zM80 121v1h1v-1zM81 84v5h1v-5zM81 96v1h1v-1zM81 107v1h1v-1zM81 116v1h1v-1zM82 84v5h1v-5zM82 92v1h1v-1zM82 122v1h1v-1zM83 84v5h1v-5zM83 100v1h1v-1zM83 105v1h1v-1zM83 118v1h1v-1zM87 119v1h1v-1zM88 104v2h1v-2zM88 109v1h1v-1zM88 111v1h1v-1zM88 113v1h1v-1zM88 118v1h1v-1zM88 123v1h1v-1zM89 105v1h1v-1zM89 107v1h1v-1zM89 115v1h1v-1zM89 117v1h1v-1zM90 108v2h1v-2zM90 123v1h1v-1zM91 106v1h1v-1zM91 108v1h1v-1zM91 112v1h1v-1zM91 120v1h1v-1zM92 119v1h1v-1zM93 119v1h1v-1zM93 122v1h1v-1zM94 120v1h1v-1zM94 124v1h1v-1zM95 105v1h1v-1zM95 107v1h1v-1zM95 124v1h1v-1zM96 118v1h1v-1zM96 120v1h1v-1zM96 124v1h1v-1zM97 107v1h1v-1zM98 124v1h1v-1zM102 103v1h1v-1zM103 104v1h1v-1zM103 120v1h1v-1zM103 122v1h1v-1zM106 120v1h1v-1zM107 120v1h1v-1zM109 122v1h1v-1zM110 120v1h1v-1zM111 113v1h1v-1zM111 120v2h1v-2zM111 123v1h1v-1zM118 122v1h1v-1zM119 122v1h1v-1z"/>
<path fill="#fb3b13" d="M0 28v1h1v-1zM0 40v1h1v-1zM1 16v1h1v-1zM1 36v2h1v-2zM2 8v1h1v-1zM2 11v1h1v-1zM2 14v1h1v-1zM2 19v3h1v-3zM2 49v1h1v-1zM3 11v1h1v-1zM3 15v1h1v-1zM3 39v1h1v-1zM3 46v1h1v-1zM3 48v4h1v-4zM4 48v4h1v-4zM5 22v1h1v-1zM5 24v2h1v-2zM5 27v1h1v-1zM5 30v1h1v-1zM5 32v2h1v-2zM5 35v1h1v-1zM5 38v1h1v-1zM5 48v4h1v-4zM6 37v1h1v-1zM6 48v4h1v-4zM7 11v1h1v-1zM7 19v1h1v-1zM7 36v1h1v-1zM8 19v3h1v-3zM8 28v1h1v-1zM9 51v2h1v-2zM10 14v2h1v-2zM11 26v1h1v-1zM11 37v1h1v-1zM11 52v1h1v-1zM12 36v1h1v-1zM12 41v1h1v-1zM12 47v1h1v-1zM14 19v3h1v-3zM14 28v1h1v-1zM16 23v1h1v-1zM22 26v1h1v-1zM22 47v2h1v-2zM23 46v3h1v-3zM23 50v1h1v-1zM24 26v1h1v-1zM25 26v1h1v-1zM26 55v1h1v-1zM27 46v1h1v-1zM27 49v1h1v-1zM27 51v2h1v-2zM27 54v2h1v-2zM30 48v5h1v-5zM31 48v5h1v-5zM32 48v5h1v-5zM33 48v5h1v-5zM34 43v2h1v-2zM35 43v2h1v-2zM35 53v1h1v-1zM37 51v1h1v-1zM37 55v1h1v-1zM39 48v1h1v-1zM40 45v1h1v-1zM41 44v1h1v-1zM42 63v1h1v-1zM42 66v1h1v-1zM43 44v1h1v-1zM47 54v2h1v-2zM54 55v1h1v-1zM54 63v1h1v-1zM54 66v1h1v-1zM59 96v1h1v-1zM60 64v6h1v-6zM60 96v1h1v-1zM60 120v1h1v-1zM61 64v6h1v-6zM61 82v1h1v-1zM61 96v1h1v-1zM62 96v1h1v-1zM63 96v1h1v-1zM63 124v1h1v-1zM64 96v1h1v-1zM64 120v1h1v-1zM65 74v1h1v-1zM65 86v1h1v-1zM65 93v1h1v-1zM65 96v2h1v-2zM65 111v1h1v-1zM65 119v1h1v-1zM66 96v1h1v-1zM67 89v1h1v-1zM67 96v1h1v-1zM68 100v1h1v-1zM70 82v1h1v-1zM70 86v1h1v-1zM70 95v1h1v-1zM70 100v1h1v-1zM71 96v1h1v-1zM71 120v1h1v-1zM71 124v1h1v-1zM72 83v1h1v-1zM72 97v1h1v-1zM72 101v1h1v-1zM72 117v1h1v-1zM72 124v1h1v-1zM74 120v1h1v-1zM75 124v1h1v-1zM76 94v1h1v-1zM76 101v1h1v-1zM76 107v1h1v-1zM76 123v1h1v-1zM77 100v1h1v-1zM77 124v1h1v-1zM78 122v1h1v-1zM79 96v1h1v-1zM79 122v1h1v-1zM80 90v1h1v-1zM80 102v1h1v-1zM80 113v1h1v-1zM81 103v1h1v-1zM82 83v1h1v-1zM88 107v1h1v-1zM88 114v1h1v-1zM88 116v2h1v-2zM89 112v1h1v-1zM89 124v1h1v-1zM92 122v1h1v-1zM92 124v1h1v-1zM93 120v1h1v-1zM93 124v1h1v-1zM95 113v1h1v-1zM96 121v1h1v-1zM96 123v1h1v-1zM98 120v2h1v-2zM101 110v3h1v-3zM102 110v3h1v-3zM103 110v3h1v-3zM104 122v1h1v-1zM105 109v1h1v-1zM109 111v2h1v-2zM110 122v1h1v-1zM111 122v1h1v-1zM112 120v4h1v-4zM118 120v1h1v-1zM119 121v1h1v-1zM121 122v1h1v-1z"/>
<path fill="#fd1e0a" d="M0 12v1h1v-1zM0 16v2h1v-2zM0 23v1h1v-1zM0 26v1h1v-1zM0 34v1h1v-1zM0 39v1h1v-1zM1 18v1h1v-1zM2 17v2h1v-2zM2 28v1h1v-1zM2 37v1h1v-1zM3 16v2h1v-2zM3 19v3h1v-3zM3 28v1h1v-1zM3 34v1h1v-1zM3 45v1h1v-1zM3 53v1h1v-1zM7 13v1h1v-1zM7 15v2h1v-2zM7 20v2h1v-2zM7 28v1h1v-1zM7 50v1h1v-1zM8 10v1h1v-1zM8 14v1h1v-1zM8 17v2h1v-2zM9 40v1h1v-1zM9 49v1h1v-1zM10 41v1h1v-1zM10 47v1h1v-1zM10 50v2h1v-2zM10 53v1h1v-1zM11 28v1h1v-1zM11 43v1h1v-1zM11 49v1h1v-1zM12 16v2h1v-2zM13 19v3h1v-3zM13 36v1h1v-1zM22 43v1h1v-1zM23 26v1h1v-1zM24 49v1h1v-1zM26 53v1h1v-1zM27 44v1h1v-1zM30 46v1h1v-1zM31 53v1h1v-1zM34 41v2h1v-2zM36 49v1h1v-1zM37 47v1h1v-1zM37 50v1h1v-1zM37 52v2h1v-2zM39 49v1h1v-1zM39 53v1h1v-1zM41 45v1h1v-1zM43 45v1h1v-1zM45 47v2h1v-2zM45 50v2h1v-2zM60 82v1h1v-1zM60 116v1h1v-1zM60 121v1h1v-1zM61 123v2h1v-2zM62 82v1h1v-1zM62 120v1h1v-1zM62 122v2h1v-2zM63 97v1h1v-1zM64 83v2h1v-2zM64 113v1h1v-1zM65 70v1h1v-1zM65 90v1h1v-1zM65 92v1h1v-1zM65 94v1h1v-1zM65 104v1h1v-1zM65 106v1h1v-1zM65 108v1h1v-1zM65 123v1h1v-1zM66 91v1h1v-1zM66 100v1h1v-1zM66 107v1h1v-1zM67 78v1h1v-1zM67 119v1h1v-1zM68 83v1h1v-1zM68 94v1h1v-1zM68 98v1h1v-1zM68 120v1h1v-1zM68 122v1h1v-1zM69 122v1h1v-1zM70 92v1h1v-1zM70 112v1h1v-1zM70 120v1h1v-1zM70 123v1h1v-1zM72 96v1h1v-1zM72 107v1h1v-1zM74 93v1h1v-1zM74 97v1h1v-1zM74 122v1h1v-1zM75 87v1h1v-1zM75 100v1h1v-1zM75 102v1h1v-1zM76 88v2h1v-2zM76 91v1h1v-1zM76 104v1h1v-1zM76 121v1h1v-1zM77 87v1h1v-1zM77 92v1h1v-1zM77 102v1h1v-1zM78 86v1h1v-1zM78 123v1h1v-1zM79 86v1h1v-1zM79 92v1h1v-1zM80 92v1h1v-1zM80 115v1h1v-1zM81 120v1h1v-1zM82 91v1h1v-1zM82 100v1h1v-1zM82 114v1h1v-1zM82 119v1h1v-1zM83 96v1h1v-1zM88 112v1h1v-1zM88 122v1h1v-1zM90 114v1h1v-1zM90 116v1h1v-1zM90 124v1h1v-1zM94 122v1h1v-1zM95 111v1h1v-1zM96 114v4h1v-4zM96 119v1h1v-1zM98 113v5h1v-5zM98 119v1h1v-1zM99 114v4h1v-4zM99 119v1h1v-1zM101 113v5h1v-5z"/>
<path fill="#ff0000" d="M0 1v11h1v-11zM0 13v3h1v-3zM0 18v5h1v-5zM0 24v2h1v-2zM0 27v1h1v-1zM0 30v4h1v-4zM0 35v1h1v-1zM0 37v2h1v-2zM0 41v5h1v-5zM0 48v8h1v-8zM0 74v1h1v-1zM1 2v14h1v-14zM1 19v9h1v-9zM1 29v5h1v-5zM1 35v1h1v-1zM1 43v1h1v-1zM1 48v3h1v-3zM1 96v1h1v-1zM1 123v2h1v-2zM2 3v5h1v-5zM2 9v1h1v-1zM2 12v2h1v-2zM2 29v1h1v-1zM2 31v1h1v-1zM2 36v1h1v-1zM2 44v1h1v-1zM2 50v2h1v-2zM2 66v1h1v-1zM2 83v2h1v-2zM2 96v1h1v-1zM2 111v1h1v-1zM3 4v5h1v-5zM3 10v1h1v-1zM3 13v2h1v-2zM3 22v6h1v-6zM3 30v4h1v-4zM3 35v1h1v-1zM3 37v2h1v-2zM3 40v4h1v-4zM3 55v1h1v-1zM3 87v1h1v-1zM3 98v1h1v-1zM3 122v1h1v-1zM4 5v33h1v-33zM4 43v1h1v-1zM4 53v3h1v-3zM4 60v1h1v-1zM4 77v1h1v-1zM5 6v16h1v-16zM5 26v1h1v-1zM5 28v2h1v-2zM5 31v1h1v-1zM5 34v1h1v-1zM5 36v2h1v-2zM5 53v3h1v-3zM6 7v29h1v-29zM6 43v1h1v-1zM6 52v4h1v-4zM7 8v3h1v-3zM7 14v1h1v-1zM7 22v6h1v-6zM7 30v6h1v-6zM7 37v1h1v-1zM7 49v1h1v-1zM7 68v1h1v-1zM7 70v1h1v-1zM7 73v1h1v-1zM7 77v1h1v-1zM7 93v2h1v-2zM8 9v1h1v-1zM8 11v3h1v-3zM8 29v1h1v-1zM8 31v1h1v-1zM8 36v2h1v-2zM8 49v1h1v-1zM8 55v1h1v-1zM8 86v1h1v-1zM9 10v1h1v-1zM9 12v1h1v-1zM9 14v1h1v-1zM9 18v1h1v-1zM9 23v1h1v-1zM9 26v1h1v-1zM9 29v1h1v-1zM9 31v1h1v-1zM9 34v1h1v-1zM9 36v2h1v-2zM9 39v1h1v-1zM9 41v3h1v-3zM9 45v3h1v-3zM9 53v3h1v-3zM9 66v1h1v-1zM9 86v1h1v-1zM9 107v1h1v-1zM10 11v3h1v-3zM10 17v2h1v-2zM10 29v1h1v-1zM10 31v1h1v-1zM10 37v1h1v-1zM10 39v2h1v-2zM10 42v5h1v-5zM10 48v2h1v-2zM10 54v2h1v-2zM10 83v1h1v-1zM10 93v1h1v-1zM10 110v1h1v-1zM11 12v2h1v-2zM11 15v7h1v-7zM11 29v1h1v-1zM11 31v1h1v-1zM11 34v3h1v-3zM11 39v4h1v-4zM11 44v3h1v-3zM11 48v1h1v-1zM11 51v1h1v-1zM11 53v3h1v-3zM11 59v1h1v-1zM11 66v1h1v-1zM11 77v2h1v-2zM11 86v1h1v-1zM11 91v1h1v-1zM12 13v3h1v-3zM12 18v18h1v-18zM12 37v4h1v-4zM12 42v2h1v-2zM12 45v2h1v-2zM12 48v4h1v-4zM12 53v3h1v-3zM12 63v1h1v-1zM12 108v1h1v-1zM13 14v5h1v-5zM13 22v14h1v-14zM13 37v1h1v-1zM13 49v2h1v-2zM13 54v2h1v-2zM14 15v1h1v-1zM14 17v2h1v-2zM14 26v1h1v-1zM14 29v1h1v-1zM14 31v1h1v-1zM14 34v1h1v-1zM14 36v2h1v-2zM14 44v1h1v-1zM14 49v2h1v-2zM14 115v1h1v-1zM15 16v7h1v-7zM15 24v14h1v-14zM15 50v1h1v-1zM15 55v1h1v-1zM15 59v1h1v-1zM15 94v1h1v-1zM16 17v5h1v-5zM16 26v1h1v-1zM16 28v2h1v-2zM16 31v1h1v-1zM16 34v1h1v-1zM16 36v2h1v-2zM16 49v2h1v-2zM16 123v1h1v-1zM17 18v16h1v-16zM17 35v4h1v-4zM17 45v1h1v-1zM17 47v1h1v-1zM17 49v2h1v-2zM17 55v1h1v-1zM17 60v1h1v-1zM18 19v21h1v-21zM18 42v2h1v-2zM18 63v1h1v-1zM19 20v20h1v-20zM19 53v3h1v-3zM20 21v19h1v-19zM20 53v3h1v-3zM20 74v1h1v-1zM21 22v18h1v-18zM21 53v3h1v-3zM21 100v1h1v-1zM21 112v1h1v-1zM22 23v3h1v-3zM22 27v14h1v-14zM22 50v1h1v-1zM22 64v1h1v-1zM23 24v2h1v-2zM23 27v13h1v-13zM23 43v1h1v-1zM23 49v1h1v-1zM24 25v1h1v-1zM24 27v14h1v-14zM24 43v1h1v-1zM24 50v1h1v-1zM24 113v1h1v-1zM25 27v14h1v-14zM25 45v2h1v-2zM25 48v3h1v-3zM26 27v13h1v-13zM26 46v3h1v-3zM26 50v3h1v-3zM26 54v1h1v-1zM27 28v13h1v-13zM27 47v2h1v-2zM27 50v1h1v-1zM27 53v1h1v-1zM27 76v1h1v-1zM28 29v11h1v-11zM28 44v12h1v-12zM29 30v26h1v-26zM30 31v10h1v-10zM30 54v1h1v-1zM30 96v1h1v-1zM30 108v1h1v-1zM31 32v9h1v-9zM31 43v1h1v-1zM31 46v1h1v-1zM31 72v1h1v-1zM32 33v8h1v-8zM32 45v2h1v-2zM32 53v1h1v-1zM32 93v1h1v-1zM33 34v7h1v-7zM33 46v1h1v-1zM33 53v1h1v-1zM33 55v1h1v-1zM34 35v6h1v-6zM34 53v1h1v-1zM34 95v1h1v-1zM35 36v5h1v-5zM35 46v1h1v-1zM35 48v2h1v-2zM35 97v1h1v-1zM36 37v5h1v-5zM36 43v3h1v-3zM36 47v2h1v-2zM36 53v1h1v-1zM36 68v1h1v-1zM37 38v3h1v-3zM37 42v1h1v-1zM37 46v1h1v-1zM37 49v1h1v-1zM37 54v1h1v-1zM37 56v2h1v-2zM37 68v1h1v-1zM38 39v2h1v-2zM38 43v8h1v-8zM38 53v1h1v-1zM38 55v2h1v-2zM38 65v1h1v-1zM38 78v1h1v-1zM38 107v1h1v-1zM39 40v1h1v-1zM39 43v5h1v-5zM39 51v1h1v-1zM39 54v2h1v-2zM39 60v1h1v-1zM39 88v1h1v-1zM40 84v1h1v-1zM40 113v1h1v-1zM41 86v1h1v-1zM42 43v4h1v-4zM42 52v4h1v-4zM42 70v1h1v-1zM42 75v1h1v-1zM43 46v1h1v-1zM43 52v1h1v-1zM43 83v1h1v-1zM44 45v2h1v-2zM44 52v1h1v-1zM44 76v1h1v-1zM45 46v1h1v-1zM45 52v1h1v-1zM45 124v1h1v-1zM46 47v9h1v-9zM46 76v1h1v-1zM46 95v1h1v-1zM47 48v6h1v-6zM48 49v7h1v-7zM49 50v2h1v-2zM49 53v3h1v-3zM49 57v1h1v-1zM49 69v1h1v-1zM49 91v1h1v-1zM50 51v5h1v-5zM51 52v4h1v-4zM52 53v3h1v-3zM52 66v1h1v-1zM52 109v1h1v-1zM53 54v2h1v-2zM54 70v1h1v-1zM54 85v2h1v-2zM54 89v1h1v-1zM55 70v1h1v-1zM55 85v2h1v-2zM55 89v1h1v-1zM56 58v1h1v-1zM56 73v1h1v-1zM56 85v2h1v-2zM56 89v1h1v-1zM58 88v1h1v-1zM58 96v1h1v-1zM59 72v1h1v-1zM59 75v1h1v-1zM59 114v1h1v-1zM60 61v2h1v-2zM60 70v2h1v-2zM60 80v1h1v-1zM60 122v1h1v-1zM60 124v1h1v-1zM61 62v1h1v-1zM61 70v2h1v-2zM61 89v1h1v-1zM61 120v1h1v-1zM61 122v1h1v-1zM62 63v7h1v-7zM62 95v1h1v-1zM62 97v1h1v-1zM63 64v6h1v-6zM63 79v1h1v-1zM63 82v1h1v-1zM63 100v1h1v-1zM63 122v1h1v-1zM64 65v5h1v-5zM64 71v1h1v-1zM64 79v1h1v-1zM64 82v1h1v-1zM64 89v1h1v-1zM64 98v1h1v-1zM64 100v1h1v-1zM64 124v1h1v-1zM65 66v4h1v-4zM65 71v3h1v-3zM65 75v4h1v-4zM65 80v5h1v-5zM65 89v1h1v-1zM65 91v1h1v-1zM65 99v1h1v-1zM65 101v1h1v-1zM65 103v1h1v-1zM65 110v1h1v-1zM65 121v2h1v-2zM66 67v12h1v-12zM66 80v1h1v-1zM66 89v1h1v-1zM66 120v1h1v-1zM66 122v1h1v-1zM66 124v1h1v-1zM67 68v3h1v-3zM67 82v1h1v-1zM67 87v1h1v-1zM67 102v1h1v-1zM67 120v1h1v-1zM67 124v1h1v-1zM68 69v14h1v-14zM68 86v1h1v-1zM68 88v5h1v-5zM68 95v3h1v-3zM68 99v1h1v-1zM68 109v1h1v-1zM68 114v1h1v-1zM68 119v1h1v-1zM68 121v1h1v-1zM68 123v2h1v-2zM69 70v1h1v-1zM69 72v1h1v-1zM69 74v4h1v-4zM69 96v1h1v-1zM69 110v1h1v-1zM69 120v1h1v-1zM70 71v11h1v-11zM70 83v1h1v-1zM70 85v1h1v-1zM70 89v1h1v-1zM70 93v1h1v-1zM70 96v1h1v-1zM70 98v2h1v-2zM70 105v1h1v-1zM70 108v1h1v-1zM70 110v1h1v-1zM70 113v1h1v-1zM70 119v1h1v-1zM70 122v1h1v-1zM70 124v1h1v-1zM71 72v8h1v-8zM71 82v1h1v-1zM71 89v1h1v-1zM71 91v1h1v-1zM71 99v1h1v-1zM71 110v1h1v-1zM72 73v9h1v-9zM72 84v1h1v-1zM72 90v1h1v-1zM72 92v4h1v-4zM72 100v1h1v-1zM72 103v1h1v-1zM72 109v1h1v-1zM72 112v1h1v-1zM72 114v1h1v-1zM72 119v1h1v-1zM72 121v3h1v-3zM73 74v1h1v-1zM73 77v5h1v-5zM73 89v1h1v-1zM73 96v1h1v-1zM73 120v1h1v-1zM74 75v8h1v-8zM74 96v1h1v-1zM74 100v1h1v-1zM74 110v1h1v-1zM74 124v1h1v-1zM75 76v8h1v-8zM75 89v1h1v-1zM75 96v1h1v-1zM75 119v2h1v-2zM76 77v8h1v-8zM76 87v1h1v-1zM76 90v1h1v-1zM76 92v1h1v-1zM76 96v1h1v-1zM76 98v2h1v-2zM76 102v2h1v-2zM76 105v2h1v-2zM76 109v3h1v-3zM76 113v1h1v-1zM76 120v1h1v-1zM76 122v1h1v-1zM77 78v4h1v-4zM77 89v1h1v-1zM77 96v1h1v-1zM77 110v1h1v-1zM77 120v1h1v-1zM78 79v4h1v-4zM78 84v1h1v-1zM78 96v1h1v-1zM78 100v1h1v-1zM79 80v4h1v-4zM79 100v1h1v-1zM79 110v1h1v-1zM79 120v1h1v-1zM79 124v1h1v-1zM80 81v3h1v-3zM80 89v1h1v-1zM80 91v1h1v-1zM80 95v2h1v-2zM80 98v4h1v-4zM80 103v6h1v-6zM80 110v3h1v-3zM80 118v2h1v-2zM80 122v1h1v-1zM80 124v1h1v-1zM81 82v2h1v-2zM81 89v1h1v-1zM81 100v1h1v-1zM81 110v1h1v-1zM81 122v3h1v-3zM82 89v1h1v-1zM82 96v1h1v-1zM82 107v1h1v-1zM82 120v1h1v-1zM82 123v2h1v-2zM83 110v1h1v-1zM83 120v1h1v-1zM83 122v1h1v-1zM83 124v1h1v-1zM84 85v2h1v-2zM84 88v2h1v-2zM84 100v25h1v-25zM85 86v39h1v-39zM86 87v38h1v-38zM87 88v3h1v-3zM87 92v1h1v-1zM87 94v1h1v-1zM87 96v1h1v-1zM87 98v2h1v-2zM87 111v1h1v-1zM87 118v1h1v-1zM87 120v1h1v-1zM87 123v2h1v-2zM88 89v11h1v-11zM88 108v1h1v-1zM88 115v1h1v-1zM88 119v3h1v-3zM88 124v1h1v-1zM89 90v10h1v-10zM89 103v1h1v-1zM89 108v1h1v-1zM89 111v1h1v-1zM89 113v2h1v-2zM89 116v1h1v-1zM89 118v6h1v-6zM90 91v9h1v-9zM90 107v1h1v-1zM90 111v2h1v-2zM90 115v1h1v-1zM90 117v4h1v-4zM91 92v9h1v-9zM91 107v1h1v-1zM91 111v1h1v-1zM91 119v1h1v-1zM91 123v2h1v-2zM92 93v25h1v-25zM92 120v2h1v-2zM92 123v1h1v-1zM93 94v8h1v-8zM93 123v1h1v-1zM94 95v23h1v-23zM94 119v1h1v-1zM94 121v1h1v-1zM94 123v1h1v-1zM95 96v6h1v-6zM95 108v2h1v-2zM95 112v1h1v-1zM95 119v2h1v-2zM95 123v1h1v-1zM96 97v17h1v-17zM96 122v1h1v-1zM97 98v4h1v-4zM97 108v1h1v-1zM97 111v3h1v-3zM97 119v2h1v-2zM97 123v2h1v-2zM98 99v14h1v-14zM98 123v1h1v-1zM99 100v2h1v-2zM99 104v10h1v-10zM99 120v5h1v-5zM100 101v24h1v-24zM101 104v5h1v-5zM101 118v4h1v-4zM101 123v2h1v-2zM102 106v1h1v-1zM102 114v6h1v-6zM102 123v2h1v-2zM103 106v1h1v-1zM103 114v4h1v-4zM103 119v1h1v-1zM103 123v2h1v-2zM104 119v2h1v-2zM104 123v2h1v-2zM105 106v3h1v-3zM105 110v8h1v-8zM105 119v1h1v-1zM105 123v2h1v-2zM106 107v11h1v-11zM106 119v1h1v-1zM106 123v2h1v-2zM107 108v10h1v-10zM107 119v1h1v-1zM107 123v2h1v-2zM108 109v9h1v-9zM108 119v1h1v-1zM108 123v2h1v-2zM109 110v1h1v-1zM109 114v6h1v-6zM109 123v2h1v-2zM110 111v7h1v-7zM110 119v1h1v-1zM110 123v2h1v-2zM111 112v1h1v-1zM111 114v4h1v-4zM111 119v1h1v-1zM111 124v1h1v-1zM112 114v4h1v-4zM112 119v1h1v-1zM112 124v1h1v-1zM113 114v4h1v-4zM113 119v1h1v-1zM114 115v3h1v-3zM114 119v6h1v-6zM115 116v2h1v-2zM115 119v6h1v-6zM116 117v1h1v-1zM116 119v6h1v-6zM117 119v6h1v-6zM118 119v1h1v-1zM118 123v2h1v-2zM119 120v1h1v-1zM119 123v2h1v-2zM120 121v4h1v-4zM121 123v2h1v-2zM122 123v2h1v-2zM123 124v1h1v-1z"/>
</g>
<path d="M347.4 1042.2H708.7L528.1 1222.9ZM792.1 1042.2H1125.7L958.9 1209.0ZM1181.2 1042.2H1431.4L1306.3 1167.3ZM1514.8 1042.2H1876.1L1695.5 1222.9ZM2015.1 1042.2H2042.9L2029.0 1056.1ZM2070.7 1042.2H2265.3L2168.0 1139.5ZM2432.0 1042.2H2459.8L2445.9 1056.1ZM2598.8 1042.2H2626.6L2612.7 1056.1ZM2682.2 1042.2H3099.1L2890.6 1250.7ZM3265.9 1042.2H3599.4L3432.6 1209.0ZM3682.8 1042.2H3710.6L3696.7 1056.1ZM3766.2 1042.2H3794.0L3780.1 1056.1Z" stroke="#000" stroke-width="2.4" fill="none" stroke-linejoin="miter"/>
<rect x="2662.20" y="2690.8" width="36.58" height="90.2" fill="#ffffff"/>
<rect x="2698.48" y="2690.8" width="36.58" height="90.2" fill="#fefef4"/>
<rect x="2734.76" y="2690.8" width="36.58" height="90.2" fill="#fdfde9"/>
<rect x="2771.04" y="2690.8" width="36.58" height="90.2" fill="#fcfbde"/>
<rect x="2807.32" y="2690.8" width="36.58" height="90.2" fill="#fbfad2"/>
<rect x="2843.59" y="2690.8" width="36.58" height="90.2" fill="#faf9c7"/>
<rect x="2879.87" y="2690.8" width="36.58" height="90.2" fill="#f9f8bc"/>
<rect x="2916.15" y="2690.8" width="36.58" height="90.2" fill="#f8f7b1"/>
<rect x="2952.43" y="2690.8" width="36.58" height="90.2" fill="#f8f6a6"/>
<rect x="2988.71" y="2690.8" width="36.58" height="90.2" fill="#f7f49b"/>
<rect x="3024.99" y="2690.8" width="36.58" height="90.2" fill="#f6f390"/>
<rect x="3061.27" y="2690.8" width="36.58" height="90.2" fill="#f5f285"/>
<rect x="3097.55" y="2690.8" width="36.58" height="90.2" fill="#f4f17a"/>
<rect x="3133.82" y="2690.8" width="36.58" height="90.2" fill="#f3f06e"/>
<rect x="3170.10" y="2690.8" width="36.58" height="90.2" fill="#f2ee63"/>
<rect x="3206.38" y="2690.8" width="36.58" height="90.2" fill="#f1ed58"/>
<rect x="3242.66" y="2690.8" width="36.58" height="90.2" fill="#f0ec4d"/>
<rect x="3278.94" y="2690.8" width="36.58" height="90.2" fill="#f1dd48"/>
<rect x="3315.22" y="2690.8" width="36.58" height="90.2" fill="#f2ce43"/>
<rect x="3351.50" y="2690.8" width="36.58" height="90.2" fill="#f3c03f"/>
<rect x="3387.78" y="2690.8" width="36.58" height="90.2" fill="#f4b13a"/>
<rect x="3424.05" y="2690.8" width="36.58" height="90.2" fill="#f5a235"/>
<rect x="3460.33" y="2690.8" width="36.58" height="90.2" fill="#f69430"/>
<rect x="3496.61" y="2690.8" width="36.58" height="90.2" fill="#f7852b"/>
<rect x="3532.89" y="2690.8" width="36.58" height="90.2" fill="#f87626"/>
<rect x="3569.17" y="2690.8" width="36.58" height="90.2" fill="#f86722"/>
<rect x="3605.45" y="2690.8" width="36.58" height="90.2" fill="#f9581d"/>
<rect x="3641.73" y="2690.8" width="36.58" height="90.2" fill="#fa4a18"/>
<rect x="3678.01" y="2690.8" width="36.58" height="90.2" fill="#fb3b13"/>
<rect x="3714.28" y="2690.8" width="36.58" height="90.2" fill="#fc2c0e"/>
<rect x="3750.56" y="2690.8" width="36.58" height="90.2" fill="#fd1e0a"/>
<rect x="3786.84" y="2690.8" width="36.58" height="90.2" fill="#fe0f05"/>
<rect x="3823.12" y="2690.8" width="36.28" height="90.2" fill="#ff0000"/>
<rect x="2662.2" y="2690.8" width="1197.2" height="90.2" fill="none" stroke="#000" stroke-width="2.4"/>
<text x="3241" y="2605" font-size="88" text-anchor="middle">D' Color Key</text>
<text x="2664" y="2864" font-size="87" text-anchor="middle">0.0</text>
<text x="3824" y="2864" font-size="87" text-anchor="middle">1.0</text>
</svg></body></html>
